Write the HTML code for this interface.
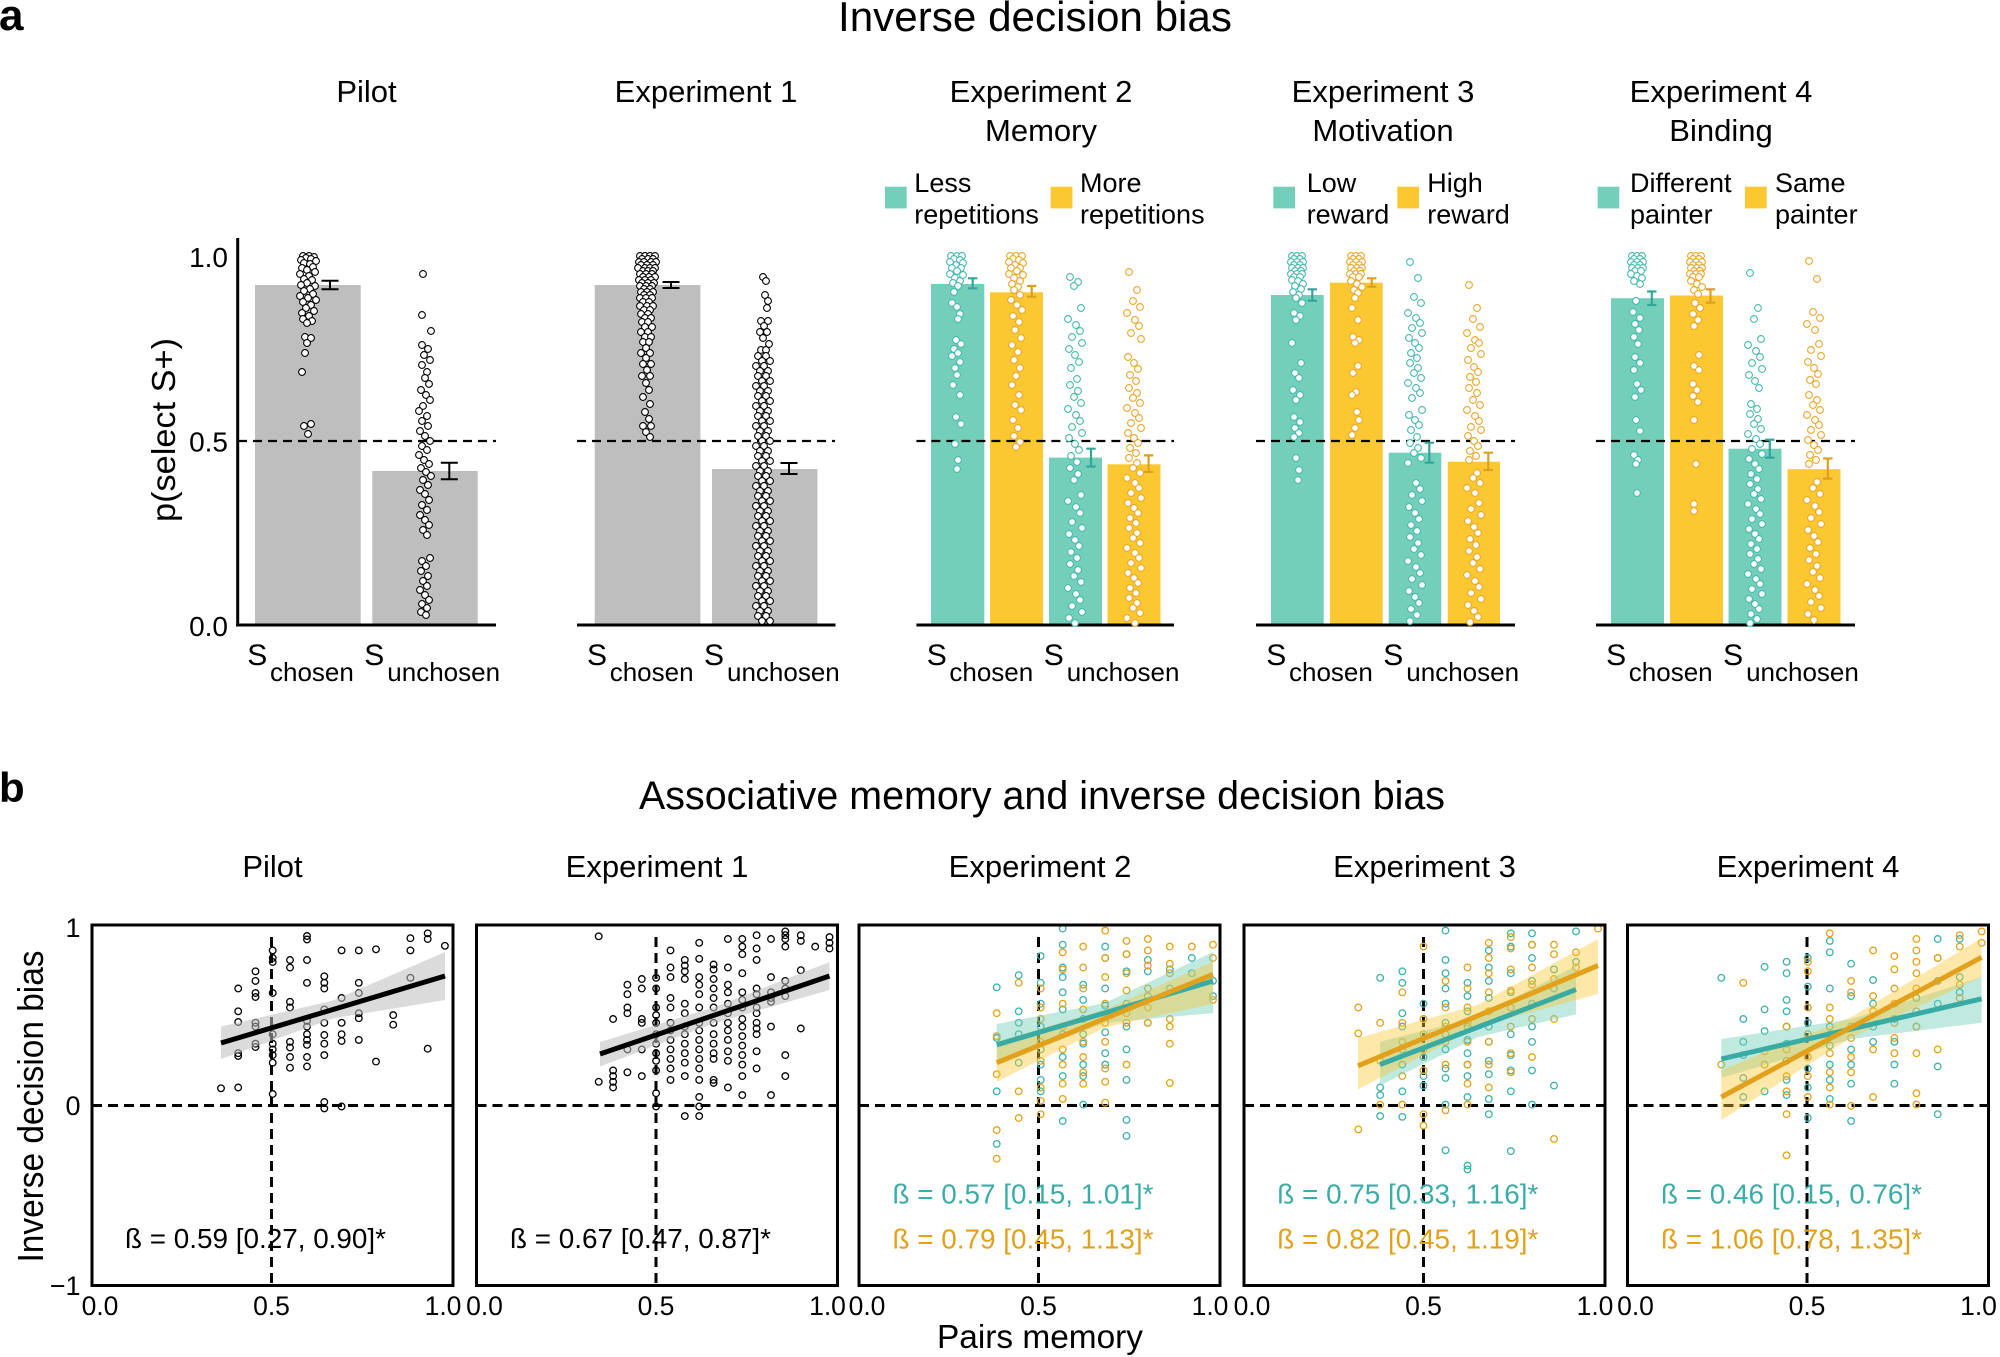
<!DOCTYPE html>
<html><head><meta charset="utf-8"><style>
html,body{margin:0;padding:0;background:#fff;}
svg{display:block;}
text{font-family:"Liberation Sans",Arial,Helvetica,sans-serif;fill:#000;}
.g circle{fill:#fff;stroke:#000;stroke-width:1.1;}
.tc circle{fill:#fff;stroke:#47B9AE;stroke-width:1.1;}
.yc circle{fill:#fff;stroke:#E8A62A;stroke-width:1.1;}
.bk circle{fill:none;stroke:#000;stroke-width:1.3;}
.bt circle{fill:none;stroke:#3FB2AA;stroke-width:1.3;}
.by circle{fill:none;stroke:#E3A21C;stroke-width:1.3;}
</style></head><body>
<svg width="2000" height="1357" viewBox="0 0 2000 1357" xmlns="http://www.w3.org/2000/svg">
<rect x="0" y="0" width="2000" height="1357" fill="#fff"/>

<!-- ===== PANEL A ===== -->
<text x="-1" y="30" font-size="44" font-weight="bold">a</text>
<text x="1035" y="31" font-size="42" text-anchor="middle" textLength="394" lengthAdjust="spacingAndGlyphs">Inverse decision bias</text>

<g font-size="31" text-anchor="middle">
<text x="366.5" y="102">Pilot</text>
<text x="706" y="102">Experiment 1</text>
<text x="1041" y="102">Experiment 2</text>
<text x="1041" y="141">Memory</text>
<text x="1383" y="102">Experiment 3</text>
<text x="1383" y="141">Motivation</text>
<text x="1721" y="102">Experiment 4</text>
<text x="1721" y="141">Binding</text>
</g>

<!-- legends -->
<g font-size="27">
<rect x="885" y="186.7" width="21.7" height="21.7" fill="#74CFBA"/>
<text x="914.3" y="192">Less</text><text x="914.3" y="223.5">repetitions</text>
<rect x="1050.7" y="186.7" width="21.7" height="21.7" fill="#FBC832"/>
<text x="1080" y="192">More</text><text x="1080" y="223.5">repetitions</text>
<rect x="1273.3" y="186.7" width="21.7" height="21.7" fill="#74CFBA"/>
<text x="1306.7" y="192">Low</text><text x="1306.7" y="223.5">reward</text>
<rect x="1397.3" y="186.7" width="21.7" height="21.7" fill="#FBC832"/>
<text x="1427.3" y="192">High</text><text x="1427.3" y="223.5">reward</text>
<rect x="1597.6" y="186.7" width="21.7" height="21.7" fill="#74CFBA"/>
<text x="1630" y="192">Different</text><text x="1630" y="223.5">painter</text>
<rect x="1745" y="186.7" width="21.7" height="21.7" fill="#FBC832"/>
<text x="1775" y="192">Same</text><text x="1775" y="223.5">painter</text>
</g>

<!-- y axis label & ticks -->
<text transform="translate(175,430) rotate(-90)" font-size="33" text-anchor="middle" textLength="184" lengthAdjust="spacingAndGlyphs">p(select S+)</text>
<g font-size="28" text-anchor="end">
<text x="228" y="267">1.0</text>
<text x="228" y="451.5">0.5</text>
<text x="228" y="636">0.0</text>
</g>

<!-- bars -->
<g fill="#BEBEBE">
<rect x="255" y="285" width="105.7" height="340"/>
<rect x="372.3" y="471" width="105.4" height="154"/>
<rect x="594.7" y="285" width="105.7" height="340"/>
<rect x="712" y="469" width="105.4" height="156"/>
</g>
<g fill="#74CFBA">
<rect x="931" y="284" width="53.3" height="341"/>
<rect x="1049" y="457.6" width="53" height="167.4"/>
<rect x="1271" y="295" width="52.7" height="330"/>
<rect x="1388.7" y="452.7" width="52.6" height="172.3"/>
<rect x="1611" y="298.2" width="53" height="326.8"/>
<rect x="1728.5" y="448.7" width="53" height="176.3"/>
</g>
<g fill="#FBC832">
<rect x="990" y="292.3" width="53" height="332.7"/>
<rect x="1107.5" y="464.3" width="53" height="160.7"/>
<rect x="1330" y="282.7" width="52.7" height="342.3"/>
<rect x="1447.7" y="461.7" width="52.3" height="163.3"/>
<rect x="1670" y="295.5" width="53" height="329.5"/>
<rect x="1787.5" y="469.2" width="53" height="155.8"/>
</g>

<!-- dashed 0.5 lines -->
<g stroke="#000" stroke-width="2.2" stroke-dasharray="9 6" fill="none">
<line x1="238" y1="441" x2="496" y2="441"/>
<line x1="577" y1="441" x2="835" y2="441"/>
<line x1="916.4" y1="441" x2="1174" y2="441"/>
<line x1="1256" y1="441" x2="1515" y2="441"/>
<line x1="1596" y1="441" x2="1855" y2="441"/>
</g>

<!-- axes -->
<g stroke="#000" stroke-width="3" fill="none">
<line x1="237.7" y1="238" x2="237.7" y2="626.5"/>
<line x1="236.2" y1="625" x2="496" y2="625"/>
<line x1="577" y1="625" x2="835.5" y2="625"/>
<line x1="916.4" y1="625" x2="1174" y2="625"/>
<line x1="1256" y1="625" x2="1515" y2="625"/>
<line x1="1596" y1="625" x2="1855" y2="625"/>
</g>

<!-- x labels -->
<g>
<text x="247.3" y="665" font-size="30">S</text><text x="270" y="681" font-size="26">chosen</text>
<text x="364.3" y="665" font-size="30">S</text><text x="387.3" y="681" font-size="26">unchosen</text>
<text x="587" y="665" font-size="30">S</text><text x="609.7" y="681" font-size="26">chosen</text>
<text x="704" y="665" font-size="30">S</text><text x="727" y="681" font-size="26">unchosen</text>
<text x="926.7" y="665" font-size="30">S</text><text x="949.4" y="681" font-size="26">chosen</text>
<text x="1043.7" y="665" font-size="30">S</text><text x="1066.7" y="681" font-size="26">unchosen</text>
<text x="1266.3" y="665" font-size="30">S</text><text x="1289" y="681" font-size="26">chosen</text>
<text x="1383.3" y="665" font-size="30">S</text><text x="1406.3" y="681" font-size="26">unchosen</text>
<text x="1606.1" y="665" font-size="30">S</text><text x="1628.8" y="681" font-size="26">chosen</text>
<text x="1723.1" y="665" font-size="30">S</text><text x="1746.1" y="681" font-size="26">unchosen</text>
</g>

<!-- Pilot dots -->
<g class="g">
<circle cx="303" cy="256" r="3.4"/><circle cx="309" cy="256" r="3.4"/><circle cx="314" cy="257" r="3.4"/><circle cx="306" cy="258" r="3.4"/><circle cx="311" cy="259" r="3.4"/><circle cx="301" cy="260" r="3.4"/><circle cx="316" cy="261" r="3.4"/><circle cx="304" cy="263" r="3.4"/><circle cx="310" cy="264" r="3.4"/><circle cx="313" cy="267" r="3.4"/><circle cx="302" cy="268" r="3.4"/><circle cx="307" cy="270" r="3.4"/><circle cx="315" cy="272" r="3.4"/><circle cx="300" cy="274" r="3.4"/><circle cx="309" cy="276" r="3.4"/><circle cx="304" cy="279" r="3.4"/><circle cx="312" cy="280" r="3.4"/><circle cx="307" cy="283" r="3.4"/><circle cx="301" cy="285" r="3.4"/><circle cx="315" cy="286" r="3.4"/><circle cx="310" cy="289" r="3.4"/><circle cx="304" cy="291" r="3.4"/><circle cx="313" cy="294" r="3.4"/><circle cx="300" cy="296" r="3.4"/><circle cx="308" cy="298" r="3.4"/><circle cx="316" cy="300" r="3.4"/><circle cx="303" cy="302" r="3.4"/><circle cx="311" cy="305" r="3.4"/><circle cx="306" cy="308" r="3.4"/><circle cx="314" cy="311" r="3.4"/><circle cx="302" cy="313" r="3.4"/><circle cx="309" cy="316" r="3.4"/><circle cx="303" cy="319" r="3.4"/><circle cx="312" cy="321" r="3.4"/><circle cx="307" cy="323" r="3.4"/><circle cx="305" cy="337" r="3.4"/><circle cx="311" cy="338" r="3.4"/><circle cx="307" cy="343" r="3.4"/><circle cx="305" cy="353" r="3.4"/><circle cx="302" cy="372" r="3.4"/><circle cx="304" cy="426" r="3.4"/><circle cx="311" cy="424" r="3.4"/><circle cx="308" cy="434" r="3.4"/>
<circle cx="423" cy="274" r="3.4"/><circle cx="422" cy="315" r="3.4"/><circle cx="431" cy="331" r="3.4"/><circle cx="422" cy="345" r="3.4"/><circle cx="428" cy="349" r="3.4"/><circle cx="424" cy="355" r="3.4"/><circle cx="430" cy="360" r="3.4"/><circle cx="422" cy="365" r="3.4"/><circle cx="427" cy="372" r="3.4"/><circle cx="425" cy="378" r="3.4"/><circle cx="429" cy="384" r="3.4"/><circle cx="421" cy="390" r="3.4"/><circle cx="426" cy="395" r="3.4"/><circle cx="430" cy="400" r="3.4"/><circle cx="423" cy="406" r="3.4"/><circle cx="419" cy="411" r="3.4"/><circle cx="427" cy="416" r="3.4"/><circle cx="422" cy="421" r="3.4"/><circle cx="428" cy="426" r="3.4"/><circle cx="420" cy="431" r="3.4"/><circle cx="425" cy="436" r="3.4"/><circle cx="430" cy="441" r="3.4"/><circle cx="422" cy="446" r="3.4"/><circle cx="427" cy="450" r="3.4"/><circle cx="419" cy="455" r="3.4"/><circle cx="424" cy="460" r="3.4"/><circle cx="429" cy="464" r="3.4"/><circle cx="421" cy="468" r="3.4"/><circle cx="426" cy="472" r="3.4"/><circle cx="431" cy="476" r="3.4"/><circle cx="423" cy="480" r="3.4"/><circle cx="428" cy="485" r="3.4"/><circle cx="420" cy="490" r="3.4"/><circle cx="425" cy="494" r="3.4"/><circle cx="429" cy="500" r="3.4"/><circle cx="422" cy="505" r="3.4"/><circle cx="427" cy="510" r="3.4"/><circle cx="420" cy="515" r="3.4"/><circle cx="425" cy="520" r="3.4"/><circle cx="429" cy="525" r="3.4"/><circle cx="423" cy="530" r="3.4"/><circle cx="427" cy="535" r="3.4"/><circle cx="430" cy="558" r="3.4"/><circle cx="422" cy="561" r="3.4"/><circle cx="426" cy="566" r="3.4"/><circle cx="421" cy="571" r="3.4"/><circle cx="428" cy="576" r="3.4"/><circle cx="423" cy="581" r="3.4"/><circle cx="427" cy="586" r="3.4"/><circle cx="420" cy="590" r="3.4"/><circle cx="425" cy="595" r="3.4"/><circle cx="429" cy="600" r="3.4"/><circle cx="422" cy="604" r="3.4"/><circle cx="427" cy="608" r="3.4"/><circle cx="421" cy="612" r="3.4"/><circle cx="426" cy="615" r="3.4"/>
</g>

<!-- Exp1 dots -->
<g class="g">
<circle cx="640" cy="256" r="3.4"/><circle cx="645" cy="256" r="3.4"/><circle cx="650" cy="256" r="3.4"/><circle cx="655" cy="256" r="3.4"/><circle cx="642" cy="259" r="3.4"/><circle cx="648" cy="259" r="3.4"/><circle cx="653" cy="259" r="3.4"/><circle cx="639" cy="262" r="3.4"/><circle cx="644" cy="262" r="3.4"/><circle cx="651" cy="262" r="3.4"/><circle cx="656" cy="262" r="3.4"/><circle cx="641" cy="265" r="3.4"/><circle cx="647" cy="265" r="3.4"/><circle cx="653" cy="265" r="3.4"/><circle cx="638" cy="268" r="3.4"/><circle cx="645" cy="268" r="3.4"/><circle cx="650" cy="268" r="3.4"/><circle cx="655" cy="268" r="3.4"/><circle cx="643" cy="271" r="3.4"/><circle cx="648" cy="271" r="3.4"/><circle cx="653" cy="271" r="3.4"/><circle cx="640" cy="274" r="3.4"/><circle cx="646" cy="274" r="3.4"/><circle cx="652" cy="274" r="3.4"/><circle cx="643" cy="277" r="3.4"/><circle cx="649" cy="277" r="3.4"/><circle cx="655" cy="277" r="3.4"/><circle cx="639" cy="280" r="3.4"/><circle cx="645" cy="280" r="3.4"/><circle cx="651" cy="280" r="3.4"/><circle cx="642" cy="283" r="3.4"/><circle cx="648" cy="283" r="3.4"/><circle cx="654" cy="283" r="3.4"/><circle cx="640" cy="286" r="3.4"/><circle cx="646" cy="286" r="3.4"/><circle cx="652" cy="286" r="3.4"/><circle cx="644" cy="289" r="3.4"/><circle cx="650" cy="289" r="3.4"/><circle cx="641" cy="292" r="3.4"/><circle cx="647" cy="292" r="3.4"/><circle cx="653" cy="292" r="3.4"/><circle cx="644" cy="295" r="3.4"/><circle cx="650" cy="295" r="3.4"/><circle cx="640" cy="298" r="3.4"/><circle cx="646" cy="298" r="3.4"/><circle cx="652" cy="298" r="3.4"/><circle cx="643" cy="302" r="3.4"/><circle cx="649" cy="302" r="3.4"/><circle cx="640" cy="306" r="3.4"/><circle cx="647" cy="306" r="3.4"/><circle cx="653" cy="306" r="3.4"/><circle cx="644" cy="310" r="3.4"/><circle cx="650" cy="310" r="3.4"/><circle cx="641" cy="314" r="3.4"/><circle cx="648" cy="314" r="3.4"/><circle cx="645" cy="318" r="3.4"/><circle cx="651" cy="318" r="3.4"/><circle cx="642" cy="322" r="3.4"/><circle cx="648" cy="322" r="3.4"/><circle cx="645" cy="327" r="3.4"/><circle cx="652" cy="327" r="3.4"/><circle cx="641" cy="332" r="3.4"/><circle cx="648" cy="332" r="3.4"/><circle cx="645" cy="337" r="3.4"/><circle cx="651" cy="337" r="3.4"/><circle cx="643" cy="342" r="3.4"/><circle cx="649" cy="342" r="3.4"/><circle cx="646" cy="348" r="3.4"/><circle cx="641" cy="353" r="3.4"/><circle cx="650" cy="353" r="3.4"/><circle cx="646" cy="358" r="3.4"/><circle cx="643" cy="364" r="3.4"/><circle cx="651" cy="364" r="3.4"/><circle cx="647" cy="370" r="3.4"/><circle cx="642" cy="376" r="3.4"/><circle cx="650" cy="376" r="3.4"/><circle cx="646" cy="383" r="3.4"/><circle cx="649" cy="390" r="3.4"/><circle cx="643" cy="397" r="3.4"/><circle cx="650" cy="404" r="3.4"/><circle cx="645" cy="412" r="3.4"/><circle cx="649" cy="419" r="3.4"/><circle cx="643" cy="426" r="3.4"/><circle cx="651" cy="426" r="3.4"/><circle cx="646" cy="432" r="3.4"/><circle cx="650" cy="437" r="3.4"/>
<circle cx="763" cy="277" r="3.4"/><circle cx="766" cy="281" r="3.4"/><circle cx="765" cy="295" r="3.4"/><circle cx="768" cy="301" r="3.4"/><circle cx="767" cy="308" r="3.4"/><circle cx="761" cy="321" r="3.4"/><circle cx="768" cy="321" r="3.4"/><circle cx="764" cy="326" r="3.4"/><circle cx="760" cy="332" r="3.4"/><circle cx="767" cy="332" r="3.4"/><circle cx="763" cy="338" r="3.4"/><circle cx="769" cy="344" r="3.4"/><circle cx="761" cy="350" r="3.4"/><circle cx="766" cy="350" r="3.4"/>
<circle cx="758" cy="356" r="3.4"/><circle cx="766" cy="356" r="3.4"/><circle cx="762" cy="361" r="3.4"/><circle cx="770" cy="361" r="3.4"/><circle cx="756" cy="366" r="3.4"/><circle cx="764" cy="366" r="3.4"/><circle cx="760" cy="371" r="3.4"/><circle cx="768" cy="371" r="3.4"/><circle cx="758" cy="376" r="3.4"/><circle cx="766" cy="376" r="3.4"/><circle cx="762" cy="381" r="3.4"/><circle cx="770" cy="381" r="3.4"/><circle cx="756" cy="386" r="3.4"/><circle cx="764" cy="386" r="3.4"/><circle cx="760" cy="391" r="3.4"/><circle cx="768" cy="391" r="3.4"/><circle cx="758" cy="396" r="3.4"/><circle cx="766" cy="396" r="3.4"/><circle cx="762" cy="401" r="3.4"/><circle cx="770" cy="401" r="3.4"/><circle cx="756" cy="406" r="3.4"/><circle cx="764" cy="406" r="3.4"/><circle cx="760" cy="411" r="3.4"/><circle cx="768" cy="411" r="3.4"/><circle cx="758" cy="416" r="3.4"/><circle cx="766" cy="416" r="3.4"/><circle cx="762" cy="421" r="3.4"/><circle cx="770" cy="421" r="3.4"/><circle cx="756" cy="426" r="3.4"/><circle cx="764" cy="426" r="3.4"/><circle cx="760" cy="431" r="3.4"/><circle cx="768" cy="431" r="3.4"/><circle cx="758" cy="436" r="3.4"/><circle cx="766" cy="436" r="3.4"/><circle cx="762" cy="441" r="3.4"/><circle cx="770" cy="441" r="3.4"/><circle cx="756" cy="446" r="3.4"/><circle cx="764" cy="446" r="3.4"/><circle cx="760" cy="451" r="3.4"/><circle cx="768" cy="451" r="3.4"/><circle cx="758" cy="456" r="3.4"/><circle cx="766" cy="456" r="3.4"/><circle cx="762" cy="461" r="3.4"/><circle cx="770" cy="461" r="3.4"/><circle cx="756" cy="466" r="3.4"/><circle cx="764" cy="466" r="3.4"/><circle cx="760" cy="471" r="3.4"/><circle cx="768" cy="471" r="3.4"/><circle cx="758" cy="476" r="3.4"/><circle cx="766" cy="476" r="3.4"/><circle cx="762" cy="481" r="3.4"/><circle cx="770" cy="481" r="3.4"/><circle cx="756" cy="486" r="3.4"/><circle cx="764" cy="486" r="3.4"/><circle cx="760" cy="491" r="3.4"/><circle cx="768" cy="491" r="3.4"/><circle cx="758" cy="496" r="3.4"/><circle cx="766" cy="496" r="3.4"/><circle cx="762" cy="501" r="3.4"/><circle cx="770" cy="501" r="3.4"/><circle cx="756" cy="506" r="3.4"/><circle cx="764" cy="506" r="3.4"/><circle cx="760" cy="511" r="3.4"/><circle cx="768" cy="511" r="3.4"/><circle cx="758" cy="516" r="3.4"/><circle cx="766" cy="516" r="3.4"/><circle cx="762" cy="521" r="3.4"/><circle cx="770" cy="521" r="3.4"/><circle cx="756" cy="526" r="3.4"/><circle cx="764" cy="526" r="3.4"/><circle cx="760" cy="531" r="3.4"/><circle cx="768" cy="531" r="3.4"/><circle cx="758" cy="536" r="3.4"/><circle cx="766" cy="536" r="3.4"/><circle cx="762" cy="541" r="3.4"/><circle cx="770" cy="541" r="3.4"/><circle cx="756" cy="546" r="3.4"/><circle cx="764" cy="546" r="3.4"/><circle cx="760" cy="551" r="3.4"/><circle cx="768" cy="551" r="3.4"/><circle cx="758" cy="556" r="3.4"/><circle cx="766" cy="556" r="3.4"/><circle cx="762" cy="561" r="3.4"/><circle cx="770" cy="561" r="3.4"/><circle cx="756" cy="566" r="3.4"/><circle cx="764" cy="566" r="3.4"/><circle cx="760" cy="571" r="3.4"/><circle cx="768" cy="571" r="3.4"/><circle cx="758" cy="576" r="3.4"/><circle cx="766" cy="576" r="3.4"/><circle cx="762" cy="581" r="3.4"/><circle cx="770" cy="581" r="3.4"/><circle cx="756" cy="586" r="3.4"/><circle cx="764" cy="586" r="3.4"/><circle cx="760" cy="591" r="3.4"/><circle cx="768" cy="591" r="3.4"/><circle cx="758" cy="596" r="3.4"/><circle cx="766" cy="596" r="3.4"/><circle cx="762" cy="601" r="3.4"/><circle cx="770" cy="601" r="3.4"/><circle cx="756" cy="606" r="3.4"/><circle cx="764" cy="606" r="3.4"/><circle cx="760" cy="611" r="3.4"/><circle cx="768" cy="611" r="3.4"/><circle cx="758" cy="616" r="3.4"/><circle cx="766" cy="616" r="3.4"/><circle cx="762" cy="621" r="3.4"/><circle cx="770" cy="621" r="3.4"/>
</g>

<!-- Teal dots panel a -->
<g class="tc">
<circle cx="951" cy="256" r="3.4"/><circle cx="957" cy="256" r="3.4"/><circle cx="962" cy="256" r="3.4"/><circle cx="954" cy="259" r="3.4"/><circle cx="960" cy="260" r="3.4"/><circle cx="950" cy="262" r="3.4"/><circle cx="963" cy="263" r="3.4"/><circle cx="956" cy="265" r="3.4"/><circle cx="952" cy="268" r="3.4"/><circle cx="961" cy="268" r="3.4"/><circle cx="957" cy="271" r="3.4"/><circle cx="950" cy="274" r="3.4"/><circle cx="963" cy="275" r="3.4"/><circle cx="955" cy="278" r="3.4"/><circle cx="960" cy="281" r="3.4"/><circle cx="953" cy="283" r="3.4"/><circle cx="958" cy="286" r="3.4"/><circle cx="954" cy="292" r="3.4"/><circle cx="952" cy="303" r="3.4"/><circle cx="957" cy="307" r="3.4"/><circle cx="960" cy="314" r="3.4"/><circle cx="958" cy="319" r="3.4"/><circle cx="956" cy="340" r="3.4"/><circle cx="961" cy="344" r="3.4"/><circle cx="954" cy="349" r="3.4"/><circle cx="958" cy="353" r="3.4"/><circle cx="952" cy="356" r="3.4"/><circle cx="960" cy="362" r="3.4"/><circle cx="955" cy="368" r="3.4"/><circle cx="957" cy="375" r="3.4"/><circle cx="953" cy="385" r="3.4"/><circle cx="960" cy="395" r="3.4"/><circle cx="956" cy="417" r="3.4"/><circle cx="961" cy="424" r="3.4"/><circle cx="955" cy="444" r="3.4"/><circle cx="958" cy="460" r="3.4"/><circle cx="957" cy="469" r="3.4"/>
<circle cx="1070" cy="277" r="3.4"/><circle cx="1078" cy="282" r="3.4"/><circle cx="1074" cy="286" r="3.4"/><circle cx="1081" cy="308" r="3.4"/><circle cx="1068" cy="319" r="3.4"/><circle cx="1076" cy="325" r="3.4"/><circle cx="1080" cy="331" r="3.4"/><circle cx="1072" cy="337" r="3.4"/><circle cx="1082" cy="343" r="3.4"/><circle cx="1069" cy="349" r="3.4"/><circle cx="1075" cy="355" r="3.4"/><circle cx="1079" cy="362" r="3.4"/><circle cx="1071" cy="368" r="3.4"/><circle cx="1077" cy="379" r="3.4"/><circle cx="1070" cy="385" r="3.4"/><circle cx="1078" cy="391" r="3.4"/><circle cx="1074" cy="397" r="3.4"/><circle cx="1081" cy="403" r="3.4"/><circle cx="1068" cy="409" r="3.4"/><circle cx="1076" cy="415" r="3.4"/><circle cx="1080" cy="421" r="3.4"/><circle cx="1072" cy="427" r="3.4"/><circle cx="1082" cy="433" r="3.4"/><circle cx="1069" cy="438" r="3.4"/><circle cx="1075" cy="444" r="3.4"/><circle cx="1079" cy="450" r="3.4"/><circle cx="1071" cy="456" r="3.4"/><circle cx="1077" cy="462" r="3.4"/><circle cx="1070" cy="468" r="3.4"/><circle cx="1078" cy="474" r="3.4"/><circle cx="1074" cy="480" r="3.4"/><circle cx="1081" cy="495" r="3.4"/><circle cx="1068" cy="501" r="3.4"/><circle cx="1076" cy="507" r="3.4"/><circle cx="1080" cy="513" r="3.4"/><circle cx="1072" cy="522" r="3.4"/><circle cx="1082" cy="528" r="3.4"/><circle cx="1069" cy="534" r="3.4"/><circle cx="1075" cy="540" r="3.4"/><circle cx="1079" cy="546" r="3.4"/><circle cx="1071" cy="552" r="3.4"/><circle cx="1077" cy="558" r="3.4"/><circle cx="1070" cy="564" r="3.4"/><circle cx="1078" cy="570" r="3.4"/><circle cx="1074" cy="576" r="3.4"/><circle cx="1081" cy="582" r="3.4"/><circle cx="1068" cy="588" r="3.4"/><circle cx="1076" cy="594" r="3.4"/><circle cx="1080" cy="600" r="3.4"/><circle cx="1072" cy="606" r="3.4"/><circle cx="1082" cy="612" r="3.4"/><circle cx="1069" cy="618" r="3.4"/><circle cx="1075" cy="623" r="3.4"/>
<circle cx="1292" cy="256" r="3.4"/><circle cx="1297" cy="256" r="3.4"/><circle cx="1302" cy="256" r="3.4"/><circle cx="1294" cy="259" r="3.4"/><circle cx="1300" cy="259" r="3.4"/><circle cx="1291" cy="262" r="3.4"/><circle cx="1297" cy="262" r="3.4"/><circle cx="1303" cy="262" r="3.4"/><circle cx="1294" cy="265" r="3.4"/><circle cx="1300" cy="265" r="3.4"/><circle cx="1292" cy="268" r="3.4"/><circle cx="1298" cy="268" r="3.4"/><circle cx="1303" cy="268" r="3.4"/><circle cx="1295" cy="271" r="3.4"/><circle cx="1301" cy="271" r="3.4"/><circle cx="1291" cy="274" r="3.4"/><circle cx="1297" cy="274" r="3.4"/><circle cx="1302" cy="274" r="3.4"/><circle cx="1294" cy="277" r="3.4"/><circle cx="1300" cy="277" r="3.4"/><circle cx="1292" cy="280" r="3.4"/><circle cx="1298" cy="281" r="3.4"/><circle cx="1303" cy="284" r="3.4"/><circle cx="1295" cy="286" r="3.4"/><circle cx="1301" cy="289" r="3.4"/><circle cx="1293" cy="292" r="3.4"/><circle cx="1299" cy="295" r="3.4"/><circle cx="1296" cy="298" r="3.4"/><circle cx="1302" cy="303" r="3.4"/><circle cx="1294" cy="313" r="3.4"/><circle cx="1300" cy="316" r="3.4"/><circle cx="1296" cy="320" r="3.4"/><circle cx="1292" cy="343" r="3.4"/><circle cx="1301" cy="363" r="3.4"/><circle cx="1295" cy="373" r="3.4"/><circle cx="1299" cy="378" r="3.4"/><circle cx="1293" cy="390" r="3.4"/><circle cx="1300" cy="395" r="3.4"/><circle cx="1296" cy="400" r="3.4"/><circle cx="1294" cy="417" r="3.4"/><circle cx="1300" cy="422" r="3.4"/><circle cx="1295" cy="428" r="3.4"/><circle cx="1299" cy="433" r="3.4"/><circle cx="1294" cy="437" r="3.4"/><circle cx="1296" cy="458" r="3.4"/><circle cx="1299" cy="470" r="3.4"/><circle cx="1298" cy="480" r="3.4"/>
<circle cx="1410" cy="262" r="3.4"/><circle cx="1418" cy="278" r="3.4"/><circle cx="1414" cy="297" r="3.4"/><circle cx="1421" cy="303" r="3.4"/><circle cx="1408" cy="313" r="3.4"/><circle cx="1416" cy="318" r="3.4"/><circle cx="1420" cy="323" r="3.4"/><circle cx="1412" cy="328" r="3.4"/><circle cx="1422" cy="333" r="3.4"/><circle cx="1409" cy="338" r="3.4"/><circle cx="1415" cy="343" r="3.4"/><circle cx="1419" cy="348" r="3.4"/><circle cx="1411" cy="353" r="3.4"/><circle cx="1417" cy="358" r="3.4"/><circle cx="1410" cy="363" r="3.4"/><circle cx="1418" cy="368" r="3.4"/><circle cx="1414" cy="373" r="3.4"/><circle cx="1421" cy="378" r="3.4"/><circle cx="1408" cy="383" r="3.4"/><circle cx="1416" cy="388" r="3.4"/><circle cx="1420" cy="393" r="3.4"/><circle cx="1412" cy="398" r="3.4"/><circle cx="1422" cy="410" r="3.4"/><circle cx="1409" cy="415" r="3.4"/><circle cx="1415" cy="420" r="3.4"/><circle cx="1419" cy="425" r="3.4"/><circle cx="1411" cy="430" r="3.4"/><circle cx="1417" cy="437" r="3.4"/><circle cx="1410" cy="443" r="3.4"/><circle cx="1418" cy="448" r="3.4"/><circle cx="1414" cy="453" r="3.4"/><circle cx="1421" cy="458" r="3.4"/><circle cx="1408" cy="463" r="3.4"/><circle cx="1416" cy="483" r="3.4"/><circle cx="1420" cy="489" r="3.4"/><circle cx="1412" cy="495" r="3.4"/><circle cx="1422" cy="501" r="3.4"/><circle cx="1409" cy="507" r="3.4"/><circle cx="1415" cy="513" r="3.4"/><circle cx="1419" cy="519" r="3.4"/><circle cx="1411" cy="525" r="3.4"/><circle cx="1417" cy="531" r="3.4"/><circle cx="1410" cy="537" r="3.4"/><circle cx="1418" cy="543" r="3.4"/><circle cx="1414" cy="549" r="3.4"/><circle cx="1421" cy="555" r="3.4"/><circle cx="1408" cy="561" r="3.4"/><circle cx="1416" cy="567" r="3.4"/><circle cx="1420" cy="573" r="3.4"/><circle cx="1412" cy="579" r="3.4"/><circle cx="1422" cy="585" r="3.4"/><circle cx="1409" cy="591" r="3.4"/><circle cx="1415" cy="597" r="3.4"/><circle cx="1419" cy="603" r="3.4"/><circle cx="1411" cy="609" r="3.4"/><circle cx="1417" cy="615" r="3.4"/><circle cx="1410" cy="621" r="3.4"/>
<circle cx="1632" cy="256" r="3.4"/><circle cx="1637" cy="256" r="3.4"/><circle cx="1642" cy="256" r="3.4"/><circle cx="1634" cy="259" r="3.4"/><circle cx="1640" cy="259" r="3.4"/><circle cx="1631" cy="262" r="3.4"/><circle cx="1637" cy="262" r="3.4"/><circle cx="1643" cy="262" r="3.4"/><circle cx="1634" cy="265" r="3.4"/><circle cx="1640" cy="265" r="3.4"/><circle cx="1632" cy="268" r="3.4"/><circle cx="1638" cy="268" r="3.4"/><circle cx="1643" cy="268" r="3.4"/><circle cx="1635" cy="271" r="3.4"/><circle cx="1641" cy="271" r="3.4"/><circle cx="1631" cy="274" r="3.4"/><circle cx="1637" cy="276" r="3.4"/><circle cx="1642" cy="278" r="3.4"/><circle cx="1634" cy="281" r="3.4"/><circle cx="1640" cy="284" r="3.4"/><circle cx="1636" cy="301" r="3.4"/><circle cx="1633" cy="312" r="3.4"/><circle cx="1640" cy="318" r="3.4"/><circle cx="1635" cy="324" r="3.4"/><circle cx="1639" cy="330" r="3.4"/><circle cx="1634" cy="337" r="3.4"/><circle cx="1638" cy="344" r="3.4"/><circle cx="1635" cy="357" r="3.4"/><circle cx="1640" cy="363" r="3.4"/><circle cx="1634" cy="370" r="3.4"/><circle cx="1637" cy="384" r="3.4"/><circle cx="1641" cy="390" r="3.4"/><circle cx="1635" cy="397" r="3.4"/><circle cx="1636" cy="420" r="3.4"/><circle cx="1640" cy="431" r="3.4"/><circle cx="1634" cy="455" r="3.4"/><circle cx="1638" cy="460" r="3.4"/><circle cx="1636" cy="464" r="3.4"/><circle cx="1637" cy="493" r="3.4"/>
<circle cx="1750" cy="273" r="3.4"/><circle cx="1758" cy="308" r="3.4"/><circle cx="1754" cy="319" r="3.4"/><circle cx="1761" cy="339" r="3.4"/><circle cx="1748" cy="345" r="3.4"/><circle cx="1756" cy="351" r="3.4"/><circle cx="1760" cy="357" r="3.4"/><circle cx="1752" cy="363" r="3.4"/><circle cx="1762" cy="369" r="3.4"/><circle cx="1749" cy="375" r="3.4"/><circle cx="1755" cy="381" r="3.4"/><circle cx="1759" cy="388" r="3.4"/><circle cx="1751" cy="404" r="3.4"/><circle cx="1757" cy="409" r="3.4"/><circle cx="1750" cy="414" r="3.4"/><circle cx="1758" cy="419" r="3.4"/><circle cx="1754" cy="424" r="3.4"/><circle cx="1761" cy="429" r="3.4"/><circle cx="1748" cy="434" r="3.4"/><circle cx="1756" cy="439" r="3.4"/><circle cx="1760" cy="444" r="3.4"/><circle cx="1752" cy="449" r="3.4"/><circle cx="1762" cy="454" r="3.4"/><circle cx="1749" cy="459" r="3.4"/><circle cx="1755" cy="464" r="3.4"/><circle cx="1759" cy="469" r="3.4"/><circle cx="1751" cy="474" r="3.4"/><circle cx="1757" cy="479" r="3.4"/><circle cx="1750" cy="484" r="3.4"/><circle cx="1758" cy="489" r="3.4"/><circle cx="1754" cy="494" r="3.4"/><circle cx="1761" cy="499" r="3.4"/><circle cx="1748" cy="504" r="3.4"/><circle cx="1756" cy="509" r="3.4"/><circle cx="1760" cy="514" r="3.4"/><circle cx="1752" cy="519" r="3.4"/><circle cx="1762" cy="524" r="3.4"/><circle cx="1749" cy="529" r="3.4"/><circle cx="1755" cy="534" r="3.4"/><circle cx="1759" cy="539" r="3.4"/><circle cx="1751" cy="544" r="3.4"/><circle cx="1757" cy="549" r="3.4"/><circle cx="1750" cy="554" r="3.4"/><circle cx="1758" cy="559" r="3.4"/><circle cx="1754" cy="564" r="3.4"/><circle cx="1761" cy="569" r="3.4"/><circle cx="1748" cy="574" r="3.4"/><circle cx="1756" cy="579" r="3.4"/><circle cx="1760" cy="584" r="3.4"/><circle cx="1752" cy="589" r="3.4"/><circle cx="1762" cy="594" r="3.4"/><circle cx="1749" cy="599" r="3.4"/><circle cx="1755" cy="604" r="3.4"/><circle cx="1759" cy="609" r="3.4"/><circle cx="1751" cy="614" r="3.4"/><circle cx="1757" cy="619" r="3.4"/><circle cx="1750" cy="623" r="3.4"/>
</g>

<!-- Yellow dots panel a -->
<g class="yc">
<circle cx="1010" cy="256" r="3.4"/><circle cx="1016" cy="256" r="3.4"/><circle cx="1022" cy="256" r="3.4"/><circle cx="1013" cy="259" r="3.4"/><circle cx="1019" cy="260" r="3.4"/><circle cx="1009" cy="262" r="3.4"/><circle cx="1023" cy="263" r="3.4"/><circle cx="1015" cy="265" r="3.4"/><circle cx="1011" cy="268" r="3.4"/><circle cx="1020" cy="268" r="3.4"/><circle cx="1017" cy="271" r="3.4"/><circle cx="1009" cy="274" r="3.4"/><circle cx="1023" cy="275" r="3.4"/><circle cx="1014" cy="278" r="3.4"/><circle cx="1020" cy="281" r="3.4"/><circle cx="1012" cy="284" r="3.4"/><circle cx="1018" cy="287" r="3.4"/><circle cx="1014" cy="290" r="3.4"/><circle cx="1020" cy="295" r="3.4"/><circle cx="1011" cy="300" r="3.4"/><circle cx="1017" cy="305" r="3.4"/><circle cx="1022" cy="310" r="3.4"/><circle cx="1013" cy="316" r="3.4"/><circle cx="1019" cy="322" r="3.4"/><circle cx="1015" cy="330" r="3.4"/><circle cx="1021" cy="338" r="3.4"/><circle cx="1012" cy="345" r="3.4"/><circle cx="1018" cy="352" r="3.4"/><circle cx="1014" cy="360" r="3.4"/><circle cx="1020" cy="368" r="3.4"/><circle cx="1016" cy="376" r="3.4"/><circle cx="1012" cy="385" r="3.4"/><circle cx="1019" cy="395" r="3.4"/><circle cx="1015" cy="405" r="3.4"/><circle cx="1021" cy="410" r="3.4"/><circle cx="1013" cy="420" r="3.4"/><circle cx="1018" cy="428" r="3.4"/><circle cx="1014" cy="436" r="3.4"/><circle cx="1020" cy="442" r="3.4"/><circle cx="1016" cy="447" r="3.4"/>
<circle cx="1129" cy="272" r="3.4"/><circle cx="1137" cy="290" r="3.4"/><circle cx="1133" cy="301" r="3.4"/><circle cx="1140" cy="307" r="3.4"/><circle cx="1127" cy="313" r="3.4"/><circle cx="1135" cy="320" r="3.4"/><circle cx="1139" cy="326" r="3.4"/><circle cx="1131" cy="333" r="3.4"/><circle cx="1141" cy="339" r="3.4"/><circle cx="1128" cy="357" r="3.4"/><circle cx="1134" cy="363" r="3.4"/><circle cx="1138" cy="369" r="3.4"/><circle cx="1130" cy="375" r="3.4"/><circle cx="1136" cy="381" r="3.4"/><circle cx="1129" cy="388" r="3.4"/><circle cx="1137" cy="393" r="3.4"/><circle cx="1133" cy="398" r="3.4"/><circle cx="1140" cy="403" r="3.4"/><circle cx="1127" cy="408" r="3.4"/><circle cx="1135" cy="413" r="3.4"/><circle cx="1139" cy="418" r="3.4"/><circle cx="1131" cy="423" r="3.4"/><circle cx="1141" cy="428" r="3.4"/><circle cx="1128" cy="433" r="3.4"/><circle cx="1134" cy="438" r="3.4"/><circle cx="1138" cy="443" r="3.4"/><circle cx="1130" cy="448" r="3.4"/><circle cx="1136" cy="453" r="3.4"/><circle cx="1129" cy="458" r="3.4"/><circle cx="1137" cy="463" r="3.4"/><circle cx="1133" cy="468" r="3.4"/><circle cx="1140" cy="473" r="3.4"/><circle cx="1127" cy="478" r="3.4"/><circle cx="1135" cy="483" r="3.4"/><circle cx="1139" cy="488" r="3.4"/><circle cx="1131" cy="493" r="3.4"/><circle cx="1141" cy="498" r="3.4"/><circle cx="1128" cy="503" r="3.4"/><circle cx="1134" cy="508" r="3.4"/><circle cx="1138" cy="513" r="3.4"/><circle cx="1130" cy="518" r="3.4"/><circle cx="1136" cy="523" r="3.4"/><circle cx="1129" cy="528" r="3.4"/><circle cx="1137" cy="533" r="3.4"/><circle cx="1133" cy="538" r="3.4"/><circle cx="1140" cy="543" r="3.4"/><circle cx="1127" cy="548" r="3.4"/><circle cx="1135" cy="553" r="3.4"/><circle cx="1139" cy="558" r="3.4"/><circle cx="1131" cy="563" r="3.4"/><circle cx="1141" cy="568" r="3.4"/><circle cx="1128" cy="573" r="3.4"/><circle cx="1134" cy="578" r="3.4"/><circle cx="1138" cy="583" r="3.4"/><circle cx="1130" cy="588" r="3.4"/><circle cx="1136" cy="593" r="3.4"/><circle cx="1129" cy="598" r="3.4"/><circle cx="1137" cy="603" r="3.4"/><circle cx="1133" cy="608" r="3.4"/><circle cx="1140" cy="613" r="3.4"/><circle cx="1127" cy="618" r="3.4"/><circle cx="1135" cy="623" r="3.4"/>
<circle cx="1351" cy="256" r="3.4"/><circle cx="1356" cy="256" r="3.4"/><circle cx="1361" cy="256" r="3.4"/><circle cx="1353" cy="259" r="3.4"/><circle cx="1359" cy="259" r="3.4"/><circle cx="1350" cy="262" r="3.4"/><circle cx="1356" cy="262" r="3.4"/><circle cx="1362" cy="262" r="3.4"/><circle cx="1353" cy="265" r="3.4"/><circle cx="1359" cy="265" r="3.4"/><circle cx="1351" cy="268" r="3.4"/><circle cx="1357" cy="268" r="3.4"/><circle cx="1362" cy="268" r="3.4"/><circle cx="1354" cy="271" r="3.4"/><circle cx="1360" cy="271" r="3.4"/><circle cx="1350" cy="274" r="3.4"/><circle cx="1356" cy="274" r="3.4"/><circle cx="1361" cy="274" r="3.4"/><circle cx="1353" cy="277" r="3.4"/><circle cx="1359" cy="277" r="3.4"/><circle cx="1351" cy="281" r="3.4"/><circle cx="1357" cy="284" r="3.4"/><circle cx="1362" cy="287" r="3.4"/><circle cx="1354" cy="290" r="3.4"/><circle cx="1358" cy="293" r="3.4"/><circle cx="1355" cy="298" r="3.4"/><circle cx="1352" cy="308" r="3.4"/><circle cx="1358" cy="320" r="3.4"/><circle cx="1353" cy="337" r="3.4"/><circle cx="1359" cy="340" r="3.4"/><circle cx="1355" cy="343" r="3.4"/><circle cx="1358" cy="366" r="3.4"/><circle cx="1353" cy="373" r="3.4"/><circle cx="1356" cy="392" r="3.4"/><circle cx="1352" cy="395" r="3.4"/><circle cx="1357" cy="412" r="3.4"/><circle cx="1359" cy="420" r="3.4"/><circle cx="1355" cy="428" r="3.4"/><circle cx="1352" cy="435" r="3.4"/>
<circle cx="1469" cy="285" r="3.4"/><circle cx="1477" cy="308" r="3.4"/><circle cx="1473" cy="319" r="3.4"/><circle cx="1480" cy="327" r="3.4"/><circle cx="1467" cy="333" r="3.4"/><circle cx="1475" cy="340" r="3.4"/><circle cx="1479" cy="343" r="3.4"/><circle cx="1471" cy="348" r="3.4"/><circle cx="1481" cy="354" r="3.4"/><circle cx="1468" cy="360" r="3.4"/><circle cx="1474" cy="367" r="3.4"/><circle cx="1478" cy="372" r="3.4"/><circle cx="1470" cy="377" r="3.4"/><circle cx="1476" cy="382" r="3.4"/><circle cx="1469" cy="388" r="3.4"/><circle cx="1477" cy="393" r="3.4"/><circle cx="1473" cy="400" r="3.4"/><circle cx="1480" cy="405" r="3.4"/><circle cx="1467" cy="410" r="3.4"/><circle cx="1475" cy="416" r="3.4"/><circle cx="1479" cy="421" r="3.4"/><circle cx="1471" cy="427" r="3.4"/><circle cx="1481" cy="430" r="3.4"/><circle cx="1468" cy="436" r="3.4"/><circle cx="1474" cy="441" r="3.4"/><circle cx="1478" cy="446" r="3.4"/><circle cx="1470" cy="451" r="3.4"/><circle cx="1476" cy="456" r="3.4"/><circle cx="1469" cy="460" r="3.4"/><circle cx="1477" cy="473" r="3.4"/><circle cx="1473" cy="478" r="3.4"/><circle cx="1480" cy="483" r="3.4"/><circle cx="1467" cy="488" r="3.4"/><circle cx="1475" cy="493" r="3.4"/><circle cx="1479" cy="503" r="3.4"/><circle cx="1471" cy="509" r="3.4"/><circle cx="1481" cy="515" r="3.4"/><circle cx="1468" cy="521" r="3.4"/><circle cx="1474" cy="527" r="3.4"/><circle cx="1478" cy="533" r="3.4"/><circle cx="1470" cy="539" r="3.4"/><circle cx="1476" cy="545" r="3.4"/><circle cx="1469" cy="551" r="3.4"/><circle cx="1477" cy="557" r="3.4"/><circle cx="1473" cy="563" r="3.4"/><circle cx="1480" cy="569" r="3.4"/><circle cx="1467" cy="575" r="3.4"/><circle cx="1475" cy="581" r="3.4"/><circle cx="1479" cy="587" r="3.4"/><circle cx="1471" cy="593" r="3.4"/><circle cx="1481" cy="599" r="3.4"/><circle cx="1468" cy="605" r="3.4"/><circle cx="1474" cy="611" r="3.4"/><circle cx="1478" cy="617" r="3.4"/><circle cx="1470" cy="622" r="3.4"/>
<circle cx="1691" cy="256" r="3.4"/><circle cx="1696" cy="256" r="3.4"/><circle cx="1701" cy="256" r="3.4"/><circle cx="1693" cy="259" r="3.4"/><circle cx="1699" cy="259" r="3.4"/><circle cx="1690" cy="262" r="3.4"/><circle cx="1696" cy="262" r="3.4"/><circle cx="1702" cy="262" r="3.4"/><circle cx="1693" cy="265" r="3.4"/><circle cx="1699" cy="265" r="3.4"/><circle cx="1691" cy="268" r="3.4"/><circle cx="1697" cy="268" r="3.4"/><circle cx="1702" cy="268" r="3.4"/><circle cx="1694" cy="271" r="3.4"/><circle cx="1700" cy="271" r="3.4"/><circle cx="1690" cy="274" r="3.4"/><circle cx="1696" cy="274" r="3.4"/><circle cx="1701" cy="274" r="3.4"/><circle cx="1693" cy="277" r="3.4"/><circle cx="1699" cy="277" r="3.4"/><circle cx="1691" cy="281" r="3.4"/><circle cx="1697" cy="284" r="3.4"/><circle cx="1702" cy="287" r="3.4"/><circle cx="1694" cy="290" r="3.4"/><circle cx="1698" cy="294" r="3.4"/><circle cx="1695" cy="303" r="3.4"/><circle cx="1700" cy="308" r="3.4"/><circle cx="1693" cy="314" r="3.4"/><circle cx="1698" cy="320" r="3.4"/><circle cx="1694" cy="326" r="3.4"/><circle cx="1699" cy="355" r="3.4"/><circle cx="1694" cy="366" r="3.4"/><circle cx="1699" cy="370" r="3.4"/><circle cx="1693" cy="384" r="3.4"/><circle cx="1697" cy="390" r="3.4"/><circle cx="1693" cy="396" r="3.4"/><circle cx="1698" cy="402" r="3.4"/><circle cx="1694" cy="420" r="3.4"/><circle cx="1696" cy="464" r="3.4"/><circle cx="1694" cy="504" r="3.4"/><circle cx="1694" cy="511" r="3.4"/>
<circle cx="1809" cy="261" r="3.4"/><circle cx="1817" cy="279" r="3.4"/><circle cx="1813" cy="312" r="3.4"/><circle cx="1820" cy="318" r="3.4"/><circle cx="1807" cy="324" r="3.4"/><circle cx="1815" cy="330" r="3.4"/><circle cx="1819" cy="344" r="3.4"/><circle cx="1811" cy="350" r="3.4"/><circle cx="1821" cy="356" r="3.4"/><circle cx="1808" cy="362" r="3.4"/><circle cx="1814" cy="368" r="3.4"/><circle cx="1818" cy="374" r="3.4"/><circle cx="1810" cy="380" r="3.4"/><circle cx="1816" cy="384" r="3.4"/><circle cx="1809" cy="395" r="3.4"/><circle cx="1817" cy="400" r="3.4"/><circle cx="1813" cy="405" r="3.4"/><circle cx="1820" cy="410" r="3.4"/><circle cx="1807" cy="415" r="3.4"/><circle cx="1815" cy="420" r="3.4"/><circle cx="1819" cy="425" r="3.4"/><circle cx="1811" cy="430" r="3.4"/><circle cx="1821" cy="435" r="3.4"/><circle cx="1808" cy="440" r="3.4"/><circle cx="1814" cy="445" r="3.4"/><circle cx="1818" cy="450" r="3.4"/><circle cx="1810" cy="455" r="3.4"/><circle cx="1816" cy="460" r="3.4"/><circle cx="1809" cy="464" r="3.4"/><circle cx="1817" cy="482" r="3.4"/><circle cx="1813" cy="488" r="3.4"/><circle cx="1820" cy="494" r="3.4"/><circle cx="1807" cy="500" r="3.4"/><circle cx="1815" cy="506" r="3.4"/><circle cx="1819" cy="512" r="3.4"/><circle cx="1811" cy="518" r="3.4"/><circle cx="1821" cy="524" r="3.4"/><circle cx="1808" cy="530" r="3.4"/><circle cx="1814" cy="536" r="3.4"/><circle cx="1818" cy="542" r="3.4"/><circle cx="1810" cy="548" r="3.4"/><circle cx="1816" cy="554" r="3.4"/><circle cx="1809" cy="560" r="3.4"/><circle cx="1817" cy="566" r="3.4"/><circle cx="1813" cy="572" r="3.4"/><circle cx="1820" cy="578" r="3.4"/><circle cx="1807" cy="584" r="3.4"/><circle cx="1815" cy="590" r="3.4"/><circle cx="1819" cy="596" r="3.4"/><circle cx="1811" cy="602" r="3.4"/><circle cx="1821" cy="608" r="3.4"/><circle cx="1808" cy="614" r="3.4"/><circle cx="1814" cy="620" r="3.4"/>
</g>

<!-- error bars -->
<g stroke="#000" stroke-width="2" fill="none">
<path d="M330 280.7V289.3M321.5 280.7H338.5M321.5 289.3H338.5"/>
<path d="M449.3 462.7V479.3M440.8 462.7H457.8M440.8 479.3H457.8"/>
<path d="M671 282V288M662.5 282H679.5M662.5 288H679.5"/>
<path d="M789 463V474M780.5 463H797.5M780.5 474H797.5"/>
</g>
<g stroke="#33A69C" stroke-width="2.2" fill="none">
<path d="M972.7 278.3V288.3M968 278.3H977.4M968 288.3H977.4"/>
<path d="M1091 448.7V466.5M1086.3 448.7H1095.7M1086.3 466.5H1095.7"/>
<path d="M1312.3 289.3V300.7M1307.6 289.3H1317M1307.6 300.7H1317"/>
<path d="M1429.3 442.7V462.7M1424.6 442.7H1434M1424.6 462.7H1434"/>
<path d="M1651.8 291.5V305M1647.1 291.5H1656.5M1647.1 305H1656.5"/>
<path d="M1769.8 439.7V457.6M1765.1 439.7H1774.5M1765.1 457.6H1774.5"/>
</g>
<g stroke="#DD9F22" stroke-width="2.2" fill="none">
<path d="M1031.7 286V296.7M1027 286H1036.4M1027 296.7H1036.4"/>
<path d="M1148.6 455.4V471.9M1143.9 455.4H1153.3M1143.9 471.9H1153.3"/>
<path d="M1371.7 278.3V286.7M1367 278.3H1376.4M1367 286.7H1376.4"/>
<path d="M1488.3 452.7V470M1483.6 452.7H1493M1483.6 470H1493"/>
<path d="M1710.5 289.3V302.7M1705.8 289.3H1715.2M1705.8 302.7H1715.2"/>
<path d="M1827.8 458.5V478.6M1823.1 458.5H1832.5M1823.1 478.6H1832.5"/>
</g>

<!-- ===== PANEL B ===== -->
<text x="-1" y="802" font-size="42" font-weight="bold">b</text>
<text x="1042" y="809" font-size="39.5" text-anchor="middle" textLength="806" lengthAdjust="spacingAndGlyphs">Associative memory and inverse decision bias</text>

<g font-size="31" text-anchor="middle">
<text x="272.5" y="877">Pilot</text>
<text x="657" y="877">Experiment 1</text>
<text x="1040" y="877">Experiment 2</text>
<text x="1424.5" y="877">Experiment 3</text>
<text x="1808" y="877">Experiment 4</text>
</g>

<text transform="translate(43,1106.5) rotate(-90)" font-size="36" text-anchor="middle" textLength="312" lengthAdjust="spacingAndGlyphs">Inverse decision bias</text>
<g font-size="27" text-anchor="end">
<text x="80.5" y="937">1</text>
<text x="80.5" y="1115">0</text>
<text x="80.5" y="1295">−1</text>
</g>

<g font-size="26.5" text-anchor="middle">
<text x="100" y="1315">0.0</text><text x="271.5" y="1315">0.5</text><text x="443" y="1315">1.0</text>
<text x="484.5" y="1315">0.0</text><text x="656" y="1315">0.5</text><text x="827.5" y="1315">1.0</text>
<text x="867" y="1315">0.0</text><text x="1038.5" y="1315">0.5</text><text x="1210" y="1315">1.0</text>
<text x="1252" y="1315">0.0</text><text x="1423.5" y="1315">0.5</text><text x="1595" y="1315">1.0</text>
<text x="1635.5" y="1315">0.0</text><text x="1807" y="1315">0.5</text><text x="1978.5" y="1315">1.0</text>
</g>
<text x="1040" y="1348" font-size="33" text-anchor="middle" textLength="206" lengthAdjust="spacingAndGlyphs">Pairs memory</text>

<!-- dashed reference lines panel b -->
<g stroke="#000" stroke-width="3" stroke-dasharray="10 6" fill="none">
<line x1="92" y1="1105.5" x2="453" y2="1105.5"/><line x1="271.5" y1="937" x2="271.5" y2="1285"/>
<line x1="476.5" y1="1105.5" x2="837.5" y2="1105.5"/><line x1="656" y1="937" x2="656" y2="1285"/>
<line x1="859" y1="1105.5" x2="1220" y2="1105.5"/><line x1="1038.5" y1="937" x2="1038.5" y2="1285"/>
<line x1="1244" y1="1105.5" x2="1605" y2="1105.5"/><line x1="1423.5" y1="937" x2="1423.5" y2="1285"/>
<line x1="1627.5" y1="1105.5" x2="1988.5" y2="1105.5"/><line x1="1807" y1="937" x2="1807" y2="1285"/>
</g>

<!-- Pilot b dots -->
<g class="bk">
<circle cx="221" cy="1088.3" r="3.3"/><circle cx="238.2" cy="1087.5" r="3.3"/><circle cx="238.2" cy="988.5" r="3.3"/><circle cx="238.2" cy="1011.3" r="3.3"/><circle cx="238.2" cy="1022" r="3.3"/><circle cx="238.2" cy="1053.2" r="3.3"/><circle cx="238.2" cy="1056" r="3.3"/>
<circle cx="255.5" cy="971.3" r="3.3"/><circle cx="255.5" cy="980.9" r="3.3"/><circle cx="255.5" cy="993" r="3.3"/><circle cx="255.5" cy="997" r="3.3"/><circle cx="255.5" cy="1022.8" r="3.3"/><circle cx="255.5" cy="1026.6" r="3.3"/><circle cx="255.5" cy="1043.7" r="3.3"/><circle cx="255.5" cy="1047" r="3.3"/>
<circle cx="272.7" cy="950.4" r="3.3"/><circle cx="272.7" cy="958" r="3.3"/><circle cx="272.7" cy="962" r="3.3"/><circle cx="272.7" cy="993" r="3.3"/><circle cx="272.7" cy="1034.2" r="3.3"/><circle cx="272.7" cy="1043.7" r="3.3"/><circle cx="272.7" cy="1049.4" r="3.3"/><circle cx="272.7" cy="1055.1" r="3.3"/><circle cx="272.7" cy="1062.7" r="3.3"/><circle cx="272.7" cy="1094" r="3.3"/>
<circle cx="290" cy="960" r="3.3"/><circle cx="290" cy="967.5" r="3.3"/><circle cx="290" cy="1001.8" r="3.3"/><circle cx="290" cy="1007.5" r="3.3"/><circle cx="290" cy="1041.8" r="3.3"/><circle cx="290" cy="1047.5" r="3.3"/><circle cx="290" cy="1057" r="3.3"/><circle cx="290" cy="1067.7" r="3.3"/>
<circle cx="307" cy="936" r="3.3"/><circle cx="307" cy="939.5" r="3.3"/><circle cx="307" cy="960" r="3.3"/><circle cx="307" cy="982.8" r="3.3"/><circle cx="307" cy="1020.9" r="3.3"/><circle cx="307" cy="1026.6" r="3.3"/><circle cx="307" cy="1034.2" r="3.3"/><circle cx="307" cy="1039.9" r="3.3"/><circle cx="307" cy="1044.8" r="3.3"/><circle cx="307" cy="1057" r="3.3"/><circle cx="307" cy="1066.5" r="3.3"/>
<circle cx="324.3" cy="976.3" r="3.3"/><circle cx="324.3" cy="982.8" r="3.3"/><circle cx="324.3" cy="988.5" r="3.3"/><circle cx="324.3" cy="1009.4" r="3.3"/><circle cx="324.3" cy="1022.8" r="3.3"/><circle cx="324.3" cy="1035" r="3.3"/><circle cx="324.3" cy="1043.7" r="3.3"/><circle cx="324.3" cy="1055.1" r="3.3"/><circle cx="324.3" cy="1102" r="3.3"/><circle cx="324.3" cy="1108.4" r="3.3"/>
<circle cx="341.6" cy="950.4" r="3.3"/><circle cx="341.6" cy="998" r="3.3"/><circle cx="341.6" cy="1022.8" r="3.3"/><circle cx="341.6" cy="1034.2" r="3.3"/><circle cx="341.6" cy="1041" r="3.3"/><circle cx="341.6" cy="1106.5" r="3.3"/>
<circle cx="358.8" cy="950.4" r="3.3"/><circle cx="358.8" cy="982.8" r="3.3"/><circle cx="358.8" cy="993" r="3.3"/><circle cx="358.8" cy="1013.2" r="3.3"/><circle cx="358.8" cy="1018.2" r="3.3"/><circle cx="358.8" cy="1039.9" r="3.3"/>
<circle cx="376" cy="949.3" r="3.3"/><circle cx="376" cy="1061.6" r="3.3"/><circle cx="393.2" cy="1015.1" r="3.3"/><circle cx="393.2" cy="1024.7" r="3.3"/>
<circle cx="410.4" cy="938.2" r="3.3"/><circle cx="410.4" cy="950.4" r="3.3"/><circle cx="410.4" cy="977.8" r="3.3"/><circle cx="427.7" cy="933.3" r="3.3"/><circle cx="427.7" cy="939" r="3.3"/><circle cx="427.7" cy="1048.7" r="3.3"/><circle cx="444.9" cy="945.8" r="3.3"/>
</g>

<!-- Exp1 b dots -->
<g class="bk">
<circle cx="598.7" cy="936.3" r="3.3"/><circle cx="598.7" cy="1081.8" r="3.3"/>
<circle cx="613.1" cy="1019" r="3.3"/><circle cx="613.1" cy="1070.4" r="3.3"/><circle cx="613.1" cy="1076.1" r="3.3"/><circle cx="613.1" cy="1081.8" r="3.3"/><circle cx="613.1" cy="1087.5" r="3.3"/>
<circle cx="627.4" cy="984.7" r="3.3"/><circle cx="627.4" cy="994.2" r="3.3"/><circle cx="627.4" cy="1007.5" r="3.3"/><circle cx="627.4" cy="1013.2" r="3.3"/><circle cx="627.4" cy="1049.4" r="3.3"/><circle cx="627.4" cy="1072.3" r="3.3"/>
<circle cx="641.8" cy="979" r="3.3"/><circle cx="641.8" cy="988.5" r="3.3"/><circle cx="641.8" cy="1019" r="3.3"/><circle cx="641.8" cy="1022.8" r="3.3"/><circle cx="641.8" cy="1049.4" r="3.3"/><circle cx="641.8" cy="1076.1" r="3.3"/>
<circle cx="656.1" cy="977.8" r="3.3"/><circle cx="656.1" cy="988.5" r="3.3"/><circle cx="656.1" cy="1007.5" r="3.3"/><circle cx="656.1" cy="1015.1" r="3.3"/><circle cx="656.1" cy="1022.8" r="3.3"/><circle cx="656.1" cy="1034.2" r="3.3"/><circle cx="656.1" cy="1043.7" r="3.3"/><circle cx="656.1" cy="1053.2" r="3.3"/><circle cx="656.1" cy="1060.8" r="3.3"/><circle cx="656.1" cy="1070.4" r="3.3"/><circle cx="656.1" cy="1093.2" r="3.3"/><circle cx="656.1" cy="1106.5" r="3.3"/>
<circle cx="670.5" cy="950.4" r="3.3"/><circle cx="670.5" cy="967.5" r="3.3"/><circle cx="670.5" cy="977.1" r="3.3"/><circle cx="670.5" cy="998" r="3.3"/><circle cx="670.5" cy="1007.5" r="3.3"/><circle cx="670.5" cy="1022.8" r="3.3"/><circle cx="670.5" cy="1030.4" r="3.3"/><circle cx="670.5" cy="1039.9" r="3.3"/><circle cx="670.5" cy="1049.4" r="3.3"/><circle cx="670.5" cy="1058.9" r="3.3"/><circle cx="670.5" cy="1068.5" r="3.3"/><circle cx="670.5" cy="1079.9" r="3.3"/>
<circle cx="684.8" cy="959.9" r="3.3"/><circle cx="684.8" cy="965.6" r="3.3"/><circle cx="684.8" cy="971.3" r="3.3"/><circle cx="684.8" cy="979" r="3.3"/><circle cx="684.8" cy="1003.7" r="3.3"/><circle cx="684.8" cy="1013.2" r="3.3"/><circle cx="684.8" cy="1026.6" r="3.3"/><circle cx="684.8" cy="1034.2" r="3.3"/><circle cx="684.8" cy="1043.7" r="3.3"/><circle cx="684.8" cy="1053.2" r="3.3"/><circle cx="684.8" cy="1062.7" r="3.3"/><circle cx="684.8" cy="1076.1" r="3.3"/><circle cx="684.8" cy="1116.1" r="3.3"/>
<circle cx="699.2" cy="942.8" r="3.3"/><circle cx="699.2" cy="958.8" r="3.3"/><circle cx="699.2" cy="977.1" r="3.3"/><circle cx="699.2" cy="984.7" r="3.3"/><circle cx="699.2" cy="994.2" r="3.3"/><circle cx="699.2" cy="1007.5" r="3.3"/><circle cx="699.2" cy="1022.8" r="3.3"/><circle cx="699.2" cy="1030.4" r="3.3"/><circle cx="699.2" cy="1039.9" r="3.3"/><circle cx="699.2" cy="1049.4" r="3.3"/><circle cx="699.2" cy="1058.9" r="3.3"/><circle cx="699.2" cy="1068.5" r="3.3"/><circle cx="699.2" cy="1079.9" r="3.3"/><circle cx="699.2" cy="1097" r="3.3"/><circle cx="699.2" cy="1106.5" r="3.3"/><circle cx="699.2" cy="1116.1" r="3.3"/>
<circle cx="713.6" cy="964.5" r="3.3"/><circle cx="713.6" cy="969.4" r="3.3"/><circle cx="713.6" cy="979" r="3.3"/><circle cx="713.6" cy="988.5" r="3.3"/><circle cx="713.6" cy="998" r="3.3"/><circle cx="713.6" cy="1007.5" r="3.3"/><circle cx="713.6" cy="1022.8" r="3.3"/><circle cx="713.6" cy="1034.2" r="3.3"/><circle cx="713.6" cy="1043.7" r="3.3"/><circle cx="713.6" cy="1053.2" r="3.3"/><circle cx="713.6" cy="1058.9" r="3.3"/><circle cx="713.6" cy="1079.9" r="3.3"/><circle cx="713.6" cy="1082.9" r="3.3"/>
<circle cx="727.9" cy="939" r="3.3"/><circle cx="727.9" cy="967.5" r="3.3"/><circle cx="727.9" cy="984.7" r="3.3"/><circle cx="727.9" cy="992.3" r="3.3"/><circle cx="727.9" cy="1003.7" r="3.3"/><circle cx="727.9" cy="1013.2" r="3.3"/><circle cx="727.9" cy="1022.8" r="3.3"/><circle cx="727.9" cy="1030.4" r="3.3"/><circle cx="727.9" cy="1039.9" r="3.3"/><circle cx="727.9" cy="1051.3" r="3.3"/><circle cx="727.9" cy="1060.8" r="3.3"/><circle cx="727.9" cy="1087.5" r="3.3"/>
<circle cx="742.3" cy="939" r="3.3"/><circle cx="742.3" cy="946.6" r="3.3"/><circle cx="742.3" cy="954.2" r="3.3"/><circle cx="742.3" cy="973.2" r="3.3"/><circle cx="742.3" cy="992.3" r="3.3"/><circle cx="742.3" cy="999.9" r="3.3"/><circle cx="742.3" cy="1007.5" r="3.3"/><circle cx="742.3" cy="1019" r="3.3"/><circle cx="742.3" cy="1026.6" r="3.3"/><circle cx="742.3" cy="1036.1" r="3.3"/><circle cx="742.3" cy="1045.6" r="3.3"/><circle cx="742.3" cy="1055.1" r="3.3"/><circle cx="742.3" cy="1064.6" r="3.3"/><circle cx="742.3" cy="1076.1" r="3.3"/><circle cx="742.3" cy="1095.1" r="3.3"/>
<circle cx="756.6" cy="935.2" r="3.3"/><circle cx="756.6" cy="948.5" r="3.3"/><circle cx="756.6" cy="959.9" r="3.3"/><circle cx="756.6" cy="988.5" r="3.3"/><circle cx="756.6" cy="994.2" r="3.3"/><circle cx="756.6" cy="1007.5" r="3.3"/><circle cx="756.6" cy="1013.2" r="3.3"/><circle cx="756.6" cy="1022.8" r="3.3"/><circle cx="756.6" cy="1028.5" r="3.3"/><circle cx="756.6" cy="1034.2" r="3.3"/><circle cx="756.6" cy="1051.3" r="3.3"/><circle cx="756.6" cy="1068.5" r="3.3"/>
<circle cx="771" cy="939" r="3.3"/><circle cx="771" cy="977.1" r="3.3"/><circle cx="771" cy="992.3" r="3.3"/><circle cx="771" cy="998" r="3.3"/><circle cx="771" cy="1001.8" r="3.3"/><circle cx="771" cy="1026.6" r="3.3"/><circle cx="771" cy="1095.1" r="3.3"/>
<circle cx="785.3" cy="931.4" r="3.3"/><circle cx="785.3" cy="935.2" r="3.3"/><circle cx="785.3" cy="939" r="3.3"/><circle cx="785.3" cy="946.6" r="3.3"/><circle cx="785.3" cy="980.9" r="3.3"/><circle cx="785.3" cy="988.5" r="3.3"/><circle cx="785.3" cy="996.1" r="3.3"/><circle cx="785.3" cy="1055.1" r="3.3"/><circle cx="785.3" cy="1076.1" r="3.3"/>
<circle cx="800.8" cy="935.2" r="3.3"/><circle cx="800.8" cy="940.9" r="3.3"/><circle cx="800.8" cy="970.2" r="3.3"/><circle cx="800.8" cy="1028.5" r="3.3"/><circle cx="815.2" cy="946.6" r="3.3"/>
<circle cx="829.5" cy="937.1" r="3.3"/><circle cx="829.5" cy="942.8" r="3.3"/><circle cx="829.5" cy="948.5" r="3.3"/>
</g>

<!-- Exp2-4 teal b dots -->
<g class="bt">
<circle cx="996.7" cy="987.3" r="3.3"/><circle cx="996.7" cy="1038" r="3.3"/><circle cx="996.7" cy="1091.3" r="3.3"/><circle cx="996.7" cy="1143.9" r="3.3"/>
<circle cx="1018.7" cy="975.2" r="3.3"/><circle cx="1018.7" cy="1011.3" r="3.3"/><circle cx="1018.7" cy="1022.8" r="3.3"/><circle cx="1018.7" cy="1034.2" r="3.3"/><circle cx="1018.7" cy="1062.7" r="3.3"/>
<circle cx="1040.7" cy="956.1" r="3.3"/><circle cx="1040.7" cy="982.8" r="3.3"/><circle cx="1040.7" cy="1003.7" r="3.3"/><circle cx="1040.7" cy="1026.6" r="3.3"/><circle cx="1040.7" cy="1049.4" r="3.3"/><circle cx="1040.7" cy="1064.6" r="3.3"/><circle cx="1040.7" cy="1079.9" r="3.3"/><circle cx="1040.7" cy="1091.3" r="3.3"/>
<circle cx="1062.7" cy="928.6" r="3.3"/><circle cx="1062.7" cy="944.7" r="3.3"/><circle cx="1062.7" cy="967.5" r="3.3"/><circle cx="1062.7" cy="977.1" r="3.3"/><circle cx="1062.7" cy="992.3" r="3.3"/><circle cx="1062.7" cy="1009.4" r="3.3"/><circle cx="1062.7" cy="1034.2" r="3.3"/><circle cx="1062.7" cy="1057" r="3.3"/><circle cx="1062.7" cy="1076.1" r="3.3"/><circle cx="1062.7" cy="1121" r="3.3"/>
<circle cx="1083.2" cy="984.7" r="3.3"/><circle cx="1083.2" cy="999.9" r="3.3"/><circle cx="1083.2" cy="1019" r="3.3"/><circle cx="1083.2" cy="1034.2" r="3.3"/><circle cx="1083.2" cy="1043.7" r="3.3"/><circle cx="1083.2" cy="1064.6" r="3.3"/><circle cx="1083.2" cy="1076.1" r="3.3"/><circle cx="1083.2" cy="1104.6" r="3.3"/>
<circle cx="1105.2" cy="946.6" r="3.3"/><circle cx="1105.2" cy="958" r="3.3"/><circle cx="1105.2" cy="988.5" r="3.3"/><circle cx="1105.2" cy="1005.6" r="3.3"/><circle cx="1105.2" cy="1032.3" r="3.3"/><circle cx="1105.2" cy="1053.2" r="3.3"/><circle cx="1105.2" cy="1064.6" r="3.3"/>
<circle cx="1126.5" cy="954.2" r="3.3"/><circle cx="1126.5" cy="971.3" r="3.3"/><circle cx="1126.5" cy="1003.7" r="3.3"/><circle cx="1126.5" cy="1026.6" r="3.3"/><circle cx="1126.5" cy="1049.4" r="3.3"/><circle cx="1126.5" cy="1079.9" r="3.3"/><circle cx="1126.5" cy="1119.9" r="3.3"/><circle cx="1126.5" cy="1135.9" r="3.3"/>
<circle cx="1147.8" cy="959.9" r="3.3"/><circle cx="1147.8" cy="971.3" r="3.3"/><circle cx="1147.8" cy="996.1" r="3.3"/><circle cx="1147.8" cy="1022.8" r="3.3"/>
<circle cx="1169.8" cy="969.4" r="3.3"/><circle cx="1169.8" cy="988.5" r="3.3"/><circle cx="1191.8" cy="958" r="3.3"/><circle cx="1191.8" cy="973.2" r="3.3"/><circle cx="1213" cy="980.9" r="3.3"/><circle cx="1213" cy="996.1" r="3.3"/>

<circle cx="1380.2" cy="977.8" r="3.3"/><circle cx="1380.2" cy="1087.5" r="3.3"/><circle cx="1380.2" cy="1095.1" r="3.3"/><circle cx="1380.2" cy="1116.1" r="3.3"/>
<circle cx="1402.3" cy="971.3" r="3.3"/><circle cx="1402.3" cy="982.8" r="3.3"/><circle cx="1402.3" cy="1013.2" r="3.3"/><circle cx="1402.3" cy="1026.6" r="3.3"/><circle cx="1402.3" cy="1049.4" r="3.3"/><circle cx="1402.3" cy="1064.6" r="3.3"/><circle cx="1402.3" cy="1091.3" r="3.3"/><circle cx="1402.3" cy="1116.8" r="3.3"/>
<circle cx="1423.5" cy="1003.7" r="3.3"/><circle cx="1423.5" cy="1019" r="3.3"/><circle cx="1423.5" cy="1057" r="3.3"/><circle cx="1423.5" cy="1076.1" r="3.3"/><circle cx="1423.5" cy="1085.6" r="3.3"/>
<circle cx="1445.5" cy="930.6" r="3.3"/><circle cx="1445.5" cy="959.9" r="3.3"/><circle cx="1445.5" cy="973.2" r="3.3"/><circle cx="1445.5" cy="988.5" r="3.3"/><circle cx="1445.5" cy="1003.7" r="3.3"/><circle cx="1445.5" cy="1022.8" r="3.3"/><circle cx="1445.5" cy="1034.2" r="3.3"/><circle cx="1445.5" cy="1049.4" r="3.3"/><circle cx="1445.5" cy="1068.5" r="3.3"/><circle cx="1445.5" cy="1078" r="3.3"/><circle cx="1445.5" cy="1104.6" r="3.3"/><circle cx="1445.5" cy="1150.3" r="3.3"/>
<circle cx="1467.5" cy="982.8" r="3.3"/><circle cx="1467.5" cy="996.1" r="3.3"/><circle cx="1467.5" cy="1011.3" r="3.3"/><circle cx="1467.5" cy="1026.6" r="3.3"/><circle cx="1467.5" cy="1039.9" r="3.3"/><circle cx="1467.5" cy="1053.2" r="3.3"/><circle cx="1467.5" cy="1064.6" r="3.3"/><circle cx="1467.5" cy="1076.1" r="3.3"/><circle cx="1467.5" cy="1097" r="3.3"/><circle cx="1467.5" cy="1165.6" r="3.3"/><circle cx="1467.5" cy="1169.4" r="3.3"/>
<circle cx="1488.8" cy="950.4" r="3.3"/><circle cx="1488.8" cy="967.5" r="3.3"/><circle cx="1488.8" cy="980.9" r="3.3"/><circle cx="1488.8" cy="998" r="3.3"/><circle cx="1488.8" cy="1011.3" r="3.3"/><circle cx="1488.8" cy="1026.6" r="3.3"/><circle cx="1488.8" cy="1041.8" r="3.3"/><circle cx="1488.8" cy="1060.8" r="3.3"/><circle cx="1488.8" cy="1074.2" r="3.3"/><circle cx="1488.8" cy="1098.9" r="3.3"/><circle cx="1488.8" cy="1114.2" r="3.3"/>
<circle cx="1510.8" cy="933.3" r="3.3"/><circle cx="1510.8" cy="946.6" r="3.3"/><circle cx="1510.8" cy="973.2" r="3.3"/><circle cx="1510.8" cy="992.3" r="3.3"/><circle cx="1510.8" cy="1007.5" r="3.3"/><circle cx="1510.8" cy="1034.2" r="3.3"/><circle cx="1510.8" cy="1055.1" r="3.3"/><circle cx="1510.8" cy="1070.4" r="3.3"/><circle cx="1510.8" cy="1091.3" r="3.3"/><circle cx="1510.8" cy="1151.1" r="3.3"/>
<circle cx="1532" cy="933.3" r="3.3"/><circle cx="1532" cy="944.7" r="3.3"/><circle cx="1532" cy="958" r="3.3"/><circle cx="1532" cy="980.9" r="3.3"/><circle cx="1532" cy="1003.7" r="3.3"/><circle cx="1532" cy="1026.6" r="3.3"/><circle cx="1532" cy="1041.8" r="3.3"/><circle cx="1532" cy="1070.4" r="3.3"/><circle cx="1532" cy="1104.6" r="3.3"/>
<circle cx="1554" cy="969.4" r="3.3"/><circle cx="1554" cy="988.5" r="3.3"/><circle cx="1554" cy="1085.6" r="3.3"/><circle cx="1576" cy="931.4" r="3.3"/><circle cx="1576" cy="961.8" r="3.3"/>

<circle cx="1721.3" cy="977.8" r="3.3"/>
<circle cx="1743.3" cy="1019" r="3.3"/><circle cx="1743.3" cy="1041.8" r="3.3"/><circle cx="1743.3" cy="1055.1" r="3.3"/><circle cx="1743.3" cy="1078" r="3.3"/><circle cx="1743.3" cy="1097" r="3.3"/>
<circle cx="1764.6" cy="966.8" r="3.3"/><circle cx="1764.6" cy="1009.4" r="3.3"/><circle cx="1764.6" cy="1031.1" r="3.3"/><circle cx="1764.6" cy="1064.6" r="3.3"/><circle cx="1764.6" cy="1091.3" r="3.3"/>
<circle cx="1786.6" cy="961.8" r="3.3"/><circle cx="1786.6" cy="973.2" r="3.3"/><circle cx="1786.6" cy="999.9" r="3.3"/><circle cx="1786.6" cy="1011.3" r="3.3"/><circle cx="1786.6" cy="1026.6" r="3.3"/><circle cx="1786.6" cy="1043.7" r="3.3"/><circle cx="1786.6" cy="1060.8" r="3.3"/><circle cx="1786.6" cy="1079.9" r="3.3"/><circle cx="1786.6" cy="1095.1" r="3.3"/>
<circle cx="1807.8" cy="958" r="3.3"/><circle cx="1807.8" cy="986.6" r="3.3"/><circle cx="1807.8" cy="1007.5" r="3.3"/><circle cx="1807.8" cy="1022.8" r="3.3"/><circle cx="1807.8" cy="1034.2" r="3.3"/><circle cx="1807.8" cy="1057" r="3.3"/><circle cx="1807.8" cy="1068.5" r="3.3"/><circle cx="1807.8" cy="1087.5" r="3.3"/><circle cx="1807.8" cy="1118" r="3.3"/>
<circle cx="1829.8" cy="940.9" r="3.3"/><circle cx="1829.8" cy="952.3" r="3.3"/><circle cx="1829.8" cy="988.5" r="3.3"/><circle cx="1829.8" cy="1026.6" r="3.3"/><circle cx="1829.8" cy="1045.6" r="3.3"/><circle cx="1829.8" cy="1064.6" r="3.3"/><circle cx="1829.8" cy="1079.9" r="3.3"/><circle cx="1829.8" cy="1098.9" r="3.3"/>
<circle cx="1851.1" cy="963.7" r="3.3"/><circle cx="1851.1" cy="996.1" r="3.3"/><circle cx="1851.1" cy="1049.4" r="3.3"/><circle cx="1851.1" cy="1064.6" r="3.3"/><circle cx="1851.1" cy="1083.7" r="3.3"/><circle cx="1851.1" cy="1121" r="3.3"/>
<circle cx="1873.1" cy="980.1" r="3.3"/><circle cx="1873.1" cy="1003.7" r="3.3"/><circle cx="1873.1" cy="1026.6" r="3.3"/><circle cx="1873.1" cy="1041.8" r="3.3"/>
<circle cx="1894.4" cy="1019" r="3.3"/><circle cx="1894.4" cy="1041.8" r="3.3"/><circle cx="1894.4" cy="1064.6" r="3.3"/><circle cx="1894.4" cy="1083.7" r="3.3"/>
<circle cx="1916.4" cy="998" r="3.3"/><circle cx="1916.4" cy="1026.6" r="3.3"/>
<circle cx="1937.7" cy="939" r="3.3"/><circle cx="1937.7" cy="958" r="3.3"/><circle cx="1937.7" cy="980.9" r="3.3"/><circle cx="1937.7" cy="1003.7" r="3.3"/><circle cx="1937.7" cy="1066.5" r="3.3"/><circle cx="1937.7" cy="1114.2" r="3.3"/>
<circle cx="1959.7" cy="939" r="3.3"/><circle cx="1959.7" cy="977.1" r="3.3"/><circle cx="1959.7" cy="992.3" r="3.3"/>
</g>

<!-- Exp2-4 yellow b dots -->
<g class="by">
<circle cx="996.7" cy="1013.2" r="3.3"/><circle cx="996.7" cy="1036.1" r="3.3"/><circle cx="996.7" cy="1074.2" r="3.3"/><circle cx="996.7" cy="1130.1" r="3.3"/><circle cx="996.7" cy="1158.7" r="3.3"/>
<circle cx="1018.7" cy="982.8" r="3.3"/><circle cx="1018.7" cy="1091.3" r="3.3"/><circle cx="1018.7" cy="1118" r="3.3"/>
<circle cx="1040.7" cy="988.5" r="3.3"/><circle cx="1040.7" cy="1007.5" r="3.3"/><circle cx="1040.7" cy="1019" r="3.3"/><circle cx="1040.7" cy="1041.8" r="3.3"/><circle cx="1040.7" cy="1060.8" r="3.3"/><circle cx="1040.7" cy="1087.5" r="3.3"/><circle cx="1040.7" cy="1100.8" r="3.3"/><circle cx="1040.7" cy="1114.2" r="3.3"/>
<circle cx="1062.7" cy="952.3" r="3.3"/><circle cx="1062.7" cy="969.4" r="3.3"/><circle cx="1062.7" cy="1003.7" r="3.3"/><circle cx="1062.7" cy="1026.6" r="3.3"/><circle cx="1062.7" cy="1049.4" r="3.3"/><circle cx="1062.7" cy="1064.6" r="3.3"/><circle cx="1062.7" cy="1083.7" r="3.3"/><circle cx="1062.7" cy="1098.9" r="3.3"/>
<circle cx="1083.2" cy="946.6" r="3.3"/><circle cx="1083.2" cy="967.5" r="3.3"/><circle cx="1083.2" cy="988.5" r="3.3"/><circle cx="1083.2" cy="1009.4" r="3.3"/><circle cx="1083.2" cy="1041.8" r="3.3"/><circle cx="1083.2" cy="1057" r="3.3"/><circle cx="1083.2" cy="1072.3" r="3.3"/><circle cx="1083.2" cy="1083.7" r="3.3"/>
<circle cx="1105.2" cy="930.6" r="3.3"/><circle cx="1105.2" cy="958" r="3.3"/><circle cx="1105.2" cy="977.1" r="3.3"/><circle cx="1105.2" cy="1003.7" r="3.3"/><circle cx="1105.2" cy="1022.8" r="3.3"/><circle cx="1105.2" cy="1041.8" r="3.3"/><circle cx="1105.2" cy="1068.5" r="3.3"/><circle cx="1105.2" cy="1081.8" r="3.3"/><circle cx="1105.2" cy="1102.7" r="3.3"/>
<circle cx="1126.5" cy="940.9" r="3.3"/><circle cx="1126.5" cy="954.2" r="3.3"/><circle cx="1126.5" cy="973.2" r="3.3"/><circle cx="1126.5" cy="990.4" r="3.3"/><circle cx="1126.5" cy="1013.2" r="3.3"/><circle cx="1126.5" cy="1022.8" r="3.3"/><circle cx="1126.5" cy="1064.6" r="3.3"/>
<circle cx="1147.8" cy="939" r="3.3"/><circle cx="1147.8" cy="950.4" r="3.3"/><circle cx="1147.8" cy="965.6" r="3.3"/><circle cx="1147.8" cy="988.5" r="3.3"/><circle cx="1147.8" cy="1007.5" r="3.3"/><circle cx="1147.8" cy="1022.8" r="3.3"/>
<circle cx="1169.8" cy="946.6" r="3.3"/><circle cx="1169.8" cy="963.7" r="3.3"/><circle cx="1169.8" cy="973.2" r="3.3"/><circle cx="1169.8" cy="1019" r="3.3"/><circle cx="1169.8" cy="1026.6" r="3.3"/><circle cx="1169.8" cy="1043.7" r="3.3"/><circle cx="1169.8" cy="1082.9" r="3.3"/>
<circle cx="1191.8" cy="946.6" r="3.3"/><circle cx="1213" cy="944.7" r="3.3"/><circle cx="1213" cy="958" r="3.3"/><circle cx="1213" cy="999.9" r="3.3"/>

<circle cx="1358.3" cy="1007.5" r="3.3"/><circle cx="1358.3" cy="1033.4" r="3.3"/><circle cx="1358.3" cy="1129.4" r="3.3"/>
<circle cx="1380.2" cy="1022.8" r="3.3"/><circle cx="1380.2" cy="1060.8" r="3.3"/><circle cx="1380.2" cy="1104.6" r="3.3"/>
<circle cx="1402.3" cy="992.3" r="3.3"/><circle cx="1402.3" cy="1022.8" r="3.3"/><circle cx="1402.3" cy="1041.8" r="3.3"/><circle cx="1402.3" cy="1076.1" r="3.3"/><circle cx="1402.3" cy="1104.6" r="3.3"/>
<circle cx="1423.5" cy="946.6" r="3.3"/><circle cx="1423.5" cy="1019" r="3.3"/><circle cx="1423.5" cy="1034.2" r="3.3"/><circle cx="1423.5" cy="1049.4" r="3.3"/><circle cx="1423.5" cy="1070.4" r="3.3"/><circle cx="1423.5" cy="1114.2" r="3.3"/><circle cx="1423.5" cy="1125.6" r="3.3"/>
<circle cx="1445.5" cy="980.9" r="3.3"/><circle cx="1445.5" cy="1007.5" r="3.3"/><circle cx="1445.5" cy="1026.6" r="3.3"/><circle cx="1445.5" cy="1041.8" r="3.3"/><circle cx="1445.5" cy="1064.6" r="3.3"/><circle cx="1445.5" cy="1110.3" r="3.3"/>
<circle cx="1467.5" cy="967.5" r="3.3"/><circle cx="1467.5" cy="988.5" r="3.3"/><circle cx="1467.5" cy="1007.5" r="3.3"/><circle cx="1467.5" cy="1022.8" r="3.3"/><circle cx="1467.5" cy="1041.8" r="3.3"/><circle cx="1467.5" cy="1064.6" r="3.3"/><circle cx="1467.5" cy="1083.7" r="3.3"/><circle cx="1467.5" cy="1104.6" r="3.3"/>
<circle cx="1488.8" cy="942.8" r="3.3"/><circle cx="1488.8" cy="958" r="3.3"/><circle cx="1488.8" cy="973.2" r="3.3"/><circle cx="1488.8" cy="992.3" r="3.3"/><circle cx="1488.8" cy="1011.3" r="3.3"/><circle cx="1488.8" cy="1041.8" r="3.3"/><circle cx="1488.8" cy="1064.6" r="3.3"/><circle cx="1488.8" cy="1087.5" r="3.3"/>
<circle cx="1510.8" cy="937.1" r="3.3"/><circle cx="1510.8" cy="948.5" r="3.3"/><circle cx="1510.8" cy="969.4" r="3.3"/><circle cx="1510.8" cy="990.4" r="3.3"/><circle cx="1510.8" cy="1007.5" r="3.3"/><circle cx="1510.8" cy="1026.6" r="3.3"/><circle cx="1510.8" cy="1053.2" r="3.3"/><circle cx="1510.8" cy="1072.3" r="3.3"/>
<circle cx="1532" cy="944.7" r="3.3"/><circle cx="1532" cy="967.5" r="3.3"/><circle cx="1532" cy="984.7" r="3.3"/><circle cx="1532" cy="1019" r="3.3"/><circle cx="1532" cy="1057" r="3.3"/>
<circle cx="1554" cy="944.7" r="3.3"/><circle cx="1554" cy="954.2" r="3.3"/><circle cx="1554" cy="979" r="3.3"/><circle cx="1554" cy="1019" r="3.3"/><circle cx="1554" cy="1138.9" r="3.3"/>
<circle cx="1576" cy="952.3" r="3.3"/><circle cx="1576" cy="967.5" r="3.3"/><circle cx="1598" cy="928.6" r="3.3"/>

<circle cx="1721.3" cy="1064.6" r="3.3"/><circle cx="1743.3" cy="982.8" r="3.3"/><circle cx="1764.6" cy="1051.3" r="3.3"/><circle cx="1764.6" cy="1064.6" r="3.3"/>
<circle cx="1786.6" cy="1026.6" r="3.3"/><circle cx="1786.6" cy="1049.4" r="3.3"/><circle cx="1786.6" cy="1076.1" r="3.3"/><circle cx="1786.6" cy="1091.3" r="3.3"/><circle cx="1786.6" cy="1114.2" r="3.3"/><circle cx="1786.6" cy="1155.3" r="3.3"/>
<circle cx="1807.8" cy="961.8" r="3.3"/><circle cx="1807.8" cy="971.3" r="3.3"/><circle cx="1807.8" cy="1007.5" r="3.3"/><circle cx="1807.8" cy="1034.2" r="3.3"/><circle cx="1807.8" cy="1057" r="3.3"/><circle cx="1807.8" cy="1076.1" r="3.3"/><circle cx="1807.8" cy="1097" r="3.3"/>
<circle cx="1829.8" cy="933.3" r="3.3"/><circle cx="1829.8" cy="1007.5" r="3.3"/><circle cx="1829.8" cy="1019" r="3.3"/><circle cx="1829.8" cy="1034.2" r="3.3"/><circle cx="1829.8" cy="1053.2" r="3.3"/><circle cx="1829.8" cy="1072.3" r="3.3"/><circle cx="1829.8" cy="1087.5" r="3.3"/><circle cx="1829.8" cy="1104.6" r="3.3"/>
<circle cx="1851.1" cy="980.9" r="3.3"/><circle cx="1851.1" cy="992.3" r="3.3"/><circle cx="1851.1" cy="1026.6" r="3.3"/><circle cx="1851.1" cy="1038" r="3.3"/><circle cx="1851.1" cy="1057" r="3.3"/><circle cx="1851.1" cy="1072.3" r="3.3"/><circle cx="1851.1" cy="1105.8" r="3.3"/>
<circle cx="1873.1" cy="950.4" r="3.3"/><circle cx="1873.1" cy="996.1" r="3.3"/><circle cx="1873.1" cy="1011.3" r="3.3"/><circle cx="1873.1" cy="1049.4" r="3.3"/><circle cx="1873.1" cy="1097" r="3.3"/>
<circle cx="1894.4" cy="956.1" r="3.3"/><circle cx="1894.4" cy="969.4" r="3.3"/><circle cx="1894.4" cy="988.5" r="3.3"/><circle cx="1894.4" cy="1003.7" r="3.3"/><circle cx="1894.4" cy="1022.8" r="3.3"/><circle cx="1894.4" cy="1038" r="3.3"/><circle cx="1894.4" cy="1053.2" r="3.3"/>
<circle cx="1916.4" cy="939" r="3.3"/><circle cx="1916.4" cy="950.4" r="3.3"/><circle cx="1916.4" cy="961.8" r="3.3"/><circle cx="1916.4" cy="973.2" r="3.3"/><circle cx="1916.4" cy="988.5" r="3.3"/><circle cx="1916.4" cy="1011.3" r="3.3"/><circle cx="1916.4" cy="1026.6" r="3.3"/><circle cx="1916.4" cy="1053.2" r="3.3"/><circle cx="1916.4" cy="1093.2" r="3.3"/><circle cx="1916.4" cy="1104.6" r="3.3"/>
<circle cx="1937.7" cy="958" r="3.3"/><circle cx="1937.7" cy="1049.4" r="3.3"/>
<circle cx="1959.7" cy="935.2" r="3.3"/><circle cx="1959.7" cy="946.6" r="3.3"/><circle cx="1959.7" cy="984.7" r="3.3"/><circle cx="1959.7" cy="998" r="3.3"/>
<circle cx="1981.7" cy="931.4" r="3.3"/><circle cx="1981.7" cy="942.8" r="3.3"/>
</g>

<!-- confidence bands -->
<g stroke="none">
<polygon points="221,1026.6 333,1000.5 445,952 445,1000 333,1018.5 221,1059" fill="#BEBEBE" fill-opacity="0.55"/>
<polygon points="600,1042 714.75,1007 829.5,962 829.5,990 714.75,1023 600,1066.5" fill="#BEBEBE" fill-opacity="0.55"/>
<polygon points="996.7,1024 1104.85,1003 1213,952 1213,1013 1104.85,1023 996.7,1064.6" fill="#74CFBA" fill-opacity="0.45"/>
<polygon points="996.7,1041.8 1104.85,1009.5 1213,961.8 1213,1003.7 1104.85,1027.5 996.7,1081.8" fill="#FBC832" fill-opacity="0.42"/>
<polygon points="1380,1041.8 1478,1017 1576,965.6 1576,1014.4 1478,1037 1380,1085.6" fill="#74CFBA" fill-opacity="0.45"/>
<polygon points="1358,1038 1478,1004.7 1598,939 1598,994 1478,1026.7 1358,1089.4" fill="#FBC832" fill-opacity="0.42"/>
<polygon points="1721.3,1039 1851.5,1019 1981.6,977 1981.6,1022.7 1851.5,1039 1721.3,1078" fill="#74CFBA" fill-opacity="0.45"/>
<polygon points="1721.3,1070 1851.5,1017 1981.6,938 1981.6,977 1851.5,1037.4 1721.3,1120" fill="#FBC832" fill-opacity="0.42"/>
</g>

<!-- regression lines -->
<g stroke-width="5" stroke-linecap="butt" fill="none">
<line x1="221" y1="1043" x2="445" y2="976" stroke="#000"/>
<line x1="600" y1="1054" x2="829.5" y2="976" stroke="#000"/>
<line x1="996.7" y1="1044.8" x2="1213" y2="981" stroke="#37ABA4"/>
<line x1="996.7" y1="1062.7" x2="1213" y2="974.4" stroke="#E3A01A"/>
<line x1="1380" y1="1064.6" x2="1576" y2="989.6" stroke="#37ABA4"/>
<line x1="1358" y1="1065.8" x2="1598" y2="965.6" stroke="#E3A01A"/>
<line x1="1721.3" y1="1059" x2="1981.6" y2="998.8" stroke="#37ABA4"/>
<line x1="1721.3" y1="1097" x2="1981.6" y2="957.3" stroke="#E3A01A"/>
</g>

<!-- boxes -->
<g stroke="#000" stroke-width="3" fill="none">
<rect x="92" y="925" width="361" height="360.5"/>
<rect x="476.5" y="925" width="361" height="360.5"/>
<rect x="859" y="925" width="361" height="360.5"/>
<rect x="1244" y="925" width="361" height="360.5"/>
<rect x="1627.5" y="925" width="361" height="360.5"/>
</g>

<!-- annotations -->
<g font-size="28">
<text x="125" y="1248" textLength="261" lengthAdjust="spacingAndGlyphs">ß = 0.59 [0.27, 0.90]*</text>
<text x="510" y="1248" textLength="261" lengthAdjust="spacingAndGlyphs">ß = 0.67 [0.47, 0.87]*</text>
<text x="892.5" y="1203.3" fill="#3AADA6" style="fill:#3AADA6" textLength="261" lengthAdjust="spacingAndGlyphs">ß = 0.57 [0.15, 1.01]*</text>
<text x="892.5" y="1248.3" style="fill:#E2A11B" textLength="261" lengthAdjust="spacingAndGlyphs">ß = 0.79 [0.45, 1.13]*</text>
<text x="1277.3" y="1203.3" style="fill:#3AADA6" textLength="261" lengthAdjust="spacingAndGlyphs">ß = 0.75 [0.33, 1.16]*</text>
<text x="1277.3" y="1248.3" style="fill:#E2A11B" textLength="261" lengthAdjust="spacingAndGlyphs">ß = 0.82 [0.45, 1.19]*</text>
<text x="1661" y="1203.3" style="fill:#3AADA6" textLength="261" lengthAdjust="spacingAndGlyphs">ß = 0.46 [0.15, 0.76]*</text>
<text x="1661" y="1248.3" style="fill:#E2A11B" textLength="261" lengthAdjust="spacingAndGlyphs">ß = 1.06 [0.78, 1.35]*</text>
</g>
</svg>
</body></html>
